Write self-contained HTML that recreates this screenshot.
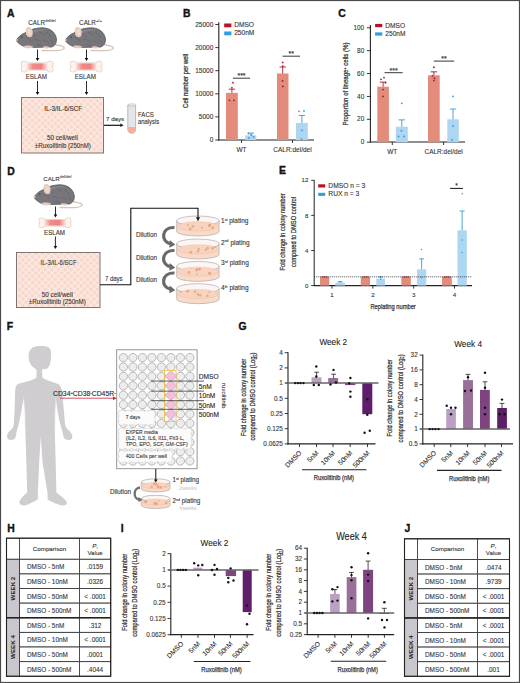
<!DOCTYPE html>
<html><head><meta charset="utf-8"><style>
html,body{margin:0;padding:0;background:#fff;width:520px;height:683px;overflow:hidden;}
svg{display:block;font-family:"Liberation Sans", sans-serif;}
</style></head><body>
<svg width="520" height="683" viewBox="0 0 520 683" font-family="'Liberation Sans', sans-serif"><defs>
<linearGradient id="bonegrad" x1="0" x2="1" y1="0" y2="0">
<stop offset="0" stop-color="#fbe4e0"/><stop offset="0.3" stop-color="#ef8a88"/><stop offset="0.7" stop-color="#ef8282"/><stop offset="1" stop-color="#fbe4e0"/></linearGradient>
<pattern id="diam" width="6.5" height="6.5" patternUnits="userSpaceOnUse">
<rect width="6.5" height="6.5" fill="#f8d7ca"/>
<path d="M0,0 L6.5,6.5 M6.5,0 L0,6.5" stroke="#fcebe4" stroke-width="1.3"/>
</pattern>
<linearGradient id="tubeg" x1="0" x2="0" y1="0" y2="1"><stop offset="0" stop-color="#f5b090"/><stop offset="1" stop-color="#e86040"/></linearGradient>
</defs>
<rect x="0.00" y="0.00" width="520.00" height="683.00" fill="#ffffff" stroke="none" stroke-width="1" />
<text x="7.00" y="16.70" font-size="10.4" fill="#111" font-weight="bold" style="stroke:#111;stroke-width:0.35">A</text>
<text x="28.20" y="24.60" font-size="6.3" fill="#333" stroke="#333" stroke-width="0.1">CALR</text>
<text x="45.20" y="21.80" font-size="3.5" fill="#444" stroke="#444" stroke-width="0.1">del/del</text>
<g transform="translate(16.2,27.5) scale(1.0)">
<path d="M38,17 C44,18 49,19 48,21 C47,23 38,23.5 26,23" fill="none" stroke="#d9c3b5" stroke-width="1.3" stroke-linecap="round"/>
<path d="M0.3,12.2 C2,9.5 5,7 8.5,5.5 C12,3 18,0.5 26,0.3 C33,0.3 38.5,4 40,10 C41,14 39.5,18 35.5,19.5 L14,20 C9,20 5,18 2.5,15.8 C1,14.5 0.2,13.4 0.3,12.2 Z" fill="#77767b" stroke="#56565c" stroke-width="0.8" />
<path d="M14,6 Q18.0,6.5 20,9" fill="none" stroke="#606066" stroke-width="0.6" />
<path d="M22,4 Q26.0,5.0 28,8" fill="none" stroke="#606066" stroke-width="0.6" />
<path d="M30,5 Q33.5,6.5 35,10" fill="none" stroke="#606066" stroke-width="0.6" />
<path d="M18,12 Q22.5,12.0 25,14" fill="none" stroke="#606066" stroke-width="0.6" />
<path d="M27,13 Q31.0,13.5 33,16" fill="none" stroke="#606066" stroke-width="0.6" />
<path d="M34,12 Q36.5,13.5 37,17" fill="none" stroke="#606066" stroke-width="0.6" />
<path d="M10,10 Q13.5,11.0 15,14" fill="none" stroke="#606066" stroke-width="0.6" />
<path d="M20,17 Q24.0,16.75 26,18.5" fill="none" stroke="#606066" stroke-width="0.6" />
<path d="M12,4.5 C18,1.8 26,1.2 31,2.2 C28,3 20,3.6 14,6.5 Z" fill="#85848a" stroke="none" stroke-width="1" />
<path d="M9.5,3 C9.5,0 12,-1.2 14.5,0.2 C16.8,1.6 17,5.5 16,8.5 C14.5,10.5 11.5,10 10.2,7.5 C9.6,6 9.5,4.5 9.5,3 Z" fill="#e3cbbd" stroke="none" stroke-width="1" />
<path d="M11,3.5 C11,1.5 13,1 14.5,2 C15.5,3.2 15.5,6 14.8,7.5 C13.5,8.5 12,7.8 11.5,6.5 Z" fill="#eed9cc" stroke="none" stroke-width="1" />
<circle cx="5.80" cy="9.60" r="0.7" fill="#2a2a2e" />
<circle cx="0.80" cy="12.50" r="1.0" fill="#e8b8b0" />
<path d="M8,18.5 C10,17.8 15,18 17.5,19.5 C16,21 10,21.2 8.2,20.2 Z" fill="#e2cabe" stroke="none" stroke-width="1" />
<path d="M27,19 C29.5,18.6 33,19.2 34,20.2 C32,21.2 28.5,21 27,20.2 Z" fill="#e2cabe" stroke="none" stroke-width="1" />
</g>
<line x1="37.50" y1="49.50" x2="37.50" y2="58.50" stroke="#111" stroke-width="0.9" />
<path d="M35.7,58 L39.3,58 L37.5,61 Z" fill="#111" stroke="none" stroke-width="1" />
<circle cx="24.11" cy="64.11" r="2.81" fill="#fcf3ef" stroke="#dcc4b6" stroke-width="1.1"/>
<circle cx="24.11" cy="68.89" r="2.81" fill="#fcf3ef" stroke="#dcc4b6" stroke-width="1.1"/>
<circle cx="50.09" cy="64.11" r="2.81" fill="#fcf3ef" stroke="#dcc4b6" stroke-width="1.1"/>
<circle cx="50.09" cy="68.89" r="2.81" fill="#fcf3ef" stroke="#dcc4b6" stroke-width="1.1"/>
<rect x="23.91" y="63.07" width="26.38" height="6.86" fill="#fcf3ef" stroke="#dcc4b6" stroke-width="1.1"/>
<circle cx="24.11" cy="64.11" r="2.81" fill="#fcf3ef" />
<circle cx="24.11" cy="68.89" r="2.81" fill="#fcf3ef" />
<circle cx="50.09" cy="64.11" r="2.81" fill="#fcf3ef" />
<circle cx="50.09" cy="68.89" r="2.81" fill="#fcf3ef" />
<rect x="23.91" y="63.07" width="26.38" height="6.86" fill="#fcf3ef" />
<rect x="26.82" y="63.38" width="20.56" height="6.24" fill="url(#bonegrad)"/>
<text x="36.30" y="78.80" font-size="6.6" fill="#333" stroke="#333" stroke-width="0.1" text-anchor="middle" textLength="21.2" lengthAdjust="spacingAndGlyphs">ESLAM</text>
<line x1="37.50" y1="81.00" x2="37.50" y2="92.50" stroke="#111" stroke-width="0.9" />
<path d="M35.7,92 L39.3,92 L37.5,95 Z" fill="#111" stroke="none" stroke-width="1" />
<text x="79.10" y="24.60" font-size="6.3" fill="#333" stroke="#333" stroke-width="0.1">CALR</text>
<text x="95.90" y="21.80" font-size="4.2" fill="#444" stroke="#444" stroke-width="0.1">+/+</text>
<g transform="translate(65.2,27.5) scale(1.0)">
<path d="M38,17 C44,18 49,19 48,21 C47,23 38,23.5 26,23" fill="none" stroke="#d9c3b5" stroke-width="1.3" stroke-linecap="round"/>
<path d="M0.3,12.2 C2,9.5 5,7 8.5,5.5 C12,3 18,0.5 26,0.3 C33,0.3 38.5,4 40,10 C41,14 39.5,18 35.5,19.5 L14,20 C9,20 5,18 2.5,15.8 C1,14.5 0.2,13.4 0.3,12.2 Z" fill="#77767b" stroke="#56565c" stroke-width="0.8" />
<path d="M14,6 Q18.0,6.5 20,9" fill="none" stroke="#606066" stroke-width="0.6" />
<path d="M22,4 Q26.0,5.0 28,8" fill="none" stroke="#606066" stroke-width="0.6" />
<path d="M30,5 Q33.5,6.5 35,10" fill="none" stroke="#606066" stroke-width="0.6" />
<path d="M18,12 Q22.5,12.0 25,14" fill="none" stroke="#606066" stroke-width="0.6" />
<path d="M27,13 Q31.0,13.5 33,16" fill="none" stroke="#606066" stroke-width="0.6" />
<path d="M34,12 Q36.5,13.5 37,17" fill="none" stroke="#606066" stroke-width="0.6" />
<path d="M10,10 Q13.5,11.0 15,14" fill="none" stroke="#606066" stroke-width="0.6" />
<path d="M20,17 Q24.0,16.75 26,18.5" fill="none" stroke="#606066" stroke-width="0.6" />
<path d="M12,4.5 C18,1.8 26,1.2 31,2.2 C28,3 20,3.6 14,6.5 Z" fill="#85848a" stroke="none" stroke-width="1" />
<path d="M9.5,3 C9.5,0 12,-1.2 14.5,0.2 C16.8,1.6 17,5.5 16,8.5 C14.5,10.5 11.5,10 10.2,7.5 C9.6,6 9.5,4.5 9.5,3 Z" fill="#e3cbbd" stroke="none" stroke-width="1" />
<path d="M11,3.5 C11,1.5 13,1 14.5,2 C15.5,3.2 15.5,6 14.8,7.5 C13.5,8.5 12,7.8 11.5,6.5 Z" fill="#eed9cc" stroke="none" stroke-width="1" />
<circle cx="5.80" cy="9.60" r="0.7" fill="#2a2a2e" />
<circle cx="0.80" cy="12.50" r="1.0" fill="#e8b8b0" />
<path d="M8,18.5 C10,17.8 15,18 17.5,19.5 C16,21 10,21.2 8.2,20.2 Z" fill="#e2cabe" stroke="none" stroke-width="1" />
<path d="M27,19 C29.5,18.6 33,19.2 34,20.2 C32,21.2 28.5,21 27,20.2 Z" fill="#e2cabe" stroke="none" stroke-width="1" />
</g>
<line x1="86.50" y1="49.50" x2="86.50" y2="58.50" stroke="#111" stroke-width="0.9" />
<path d="M84.7,58 L88.3,58 L86.5,61 Z" fill="#111" stroke="none" stroke-width="1" />
<circle cx="73.11" cy="64.11" r="2.81" fill="#fcf3ef" stroke="#dcc4b6" stroke-width="1.1"/>
<circle cx="73.11" cy="68.89" r="2.81" fill="#fcf3ef" stroke="#dcc4b6" stroke-width="1.1"/>
<circle cx="99.09" cy="64.11" r="2.81" fill="#fcf3ef" stroke="#dcc4b6" stroke-width="1.1"/>
<circle cx="99.09" cy="68.89" r="2.81" fill="#fcf3ef" stroke="#dcc4b6" stroke-width="1.1"/>
<rect x="72.91" y="63.07" width="26.38" height="6.86" fill="#fcf3ef" stroke="#dcc4b6" stroke-width="1.1"/>
<circle cx="73.11" cy="64.11" r="2.81" fill="#fcf3ef" />
<circle cx="73.11" cy="68.89" r="2.81" fill="#fcf3ef" />
<circle cx="99.09" cy="64.11" r="2.81" fill="#fcf3ef" />
<circle cx="99.09" cy="68.89" r="2.81" fill="#fcf3ef" />
<rect x="72.91" y="63.07" width="26.38" height="6.86" fill="#fcf3ef" />
<rect x="75.82" y="63.38" width="20.56" height="6.24" fill="url(#bonegrad)"/>
<text x="85.30" y="78.80" font-size="6.6" fill="#333" stroke="#333" stroke-width="0.1" text-anchor="middle" textLength="21.2" lengthAdjust="spacingAndGlyphs">ESLAM</text>
<line x1="86.50" y1="81.00" x2="86.50" y2="92.50" stroke="#111" stroke-width="0.9" />
<path d="M84.7,92 L88.3,92 L86.5,95 Z" fill="#111" stroke="none" stroke-width="1" />
<rect x="21.50" y="97.50" width="82.00" height="55.50" fill="url(#diam)" stroke="#807570" stroke-width="1" />
<text x="63.20" y="110.60" font-size="7" fill="#333" stroke="#333" stroke-width="0.1" text-anchor="middle" textLength="38" lengthAdjust="spacingAndGlyphs">IL-3/IL-6/SCF</text>
<text x="62.40" y="140.30" font-size="7" fill="#333" stroke="#333" stroke-width="0.1" text-anchor="middle" textLength="31" lengthAdjust="spacingAndGlyphs">50 cell/well</text>
<text x="62.80" y="147.80" font-size="7" fill="#333" stroke="#333" stroke-width="0.1" text-anchor="middle" textLength="56" lengthAdjust="spacingAndGlyphs">±Ruxolitinib (250nM)</text>
<line x1="104.00" y1="125.30" x2="120.80" y2="125.30" stroke="#111" stroke-width="1.2" />
<path d="M120.3,123.6 L120.3,127.0 L123.6,125.3 Z" fill="#111" stroke="none" stroke-width="1" />
<text x="106.00" y="120.90" font-size="6.2" fill="#333" stroke="#333" stroke-width="0.1" textLength="18.2" lengthAdjust="spacingAndGlyphs">7 days</text>
<path d="M127.8,105 L127.8,129.5 C127.8,134.6 135.6,134.6 135.6,129.5 L135.6,105" fill="#e6e6ea" stroke="#a0a0a4" stroke-width="0.7" />
<ellipse cx="131.7" cy="105" rx="3.9" ry="1.1" fill="#f6f6f6" stroke="#a0a0a4" stroke-width="0.6"/>
<path d="M128.1,127 L135.3,127 L135.3,129.5 C135.3,134.2 128.1,134.2 128.1,129.5 Z" fill="#f7ae92" stroke="none" stroke-width="1" />
<text x="138.00" y="116.80" font-size="6.8" fill="#333" stroke="#333" stroke-width="0.1" textLength="15.8" lengthAdjust="spacingAndGlyphs">FACS</text>
<text x="138.00" y="124.00" font-size="6.8" fill="#333" stroke="#333" stroke-width="0.1" textLength="21.2" lengthAdjust="spacingAndGlyphs">analysis</text>
<text x="182.90" y="16.80" font-size="10.4" fill="#111" font-weight="bold" style="stroke:#111;stroke-width:0.35">B</text>
<line x1="218.80" y1="22.30" x2="218.80" y2="140.50" stroke="#222" stroke-width="1.1" />
<line x1="215.30" y1="140.00" x2="218.80" y2="140.00" stroke="#222" stroke-width="0.9" />
<text x="213.30" y="142.20" font-size="6.5" fill="#333" stroke="#333" stroke-width="0.1" text-anchor="end">0</text>
<line x1="215.30" y1="116.90" x2="218.80" y2="116.90" stroke="#222" stroke-width="0.9" />
<text x="213.30" y="119.10" font-size="6.5" fill="#333" stroke="#333" stroke-width="0.1" text-anchor="end">5000</text>
<line x1="215.30" y1="93.80" x2="218.80" y2="93.80" stroke="#222" stroke-width="0.9" />
<text x="213.30" y="96.00" font-size="6.5" fill="#333" stroke="#333" stroke-width="0.1" text-anchor="end">10000</text>
<line x1="215.30" y1="70.70" x2="218.80" y2="70.70" stroke="#222" stroke-width="0.9" />
<text x="213.30" y="72.90" font-size="6.5" fill="#333" stroke="#333" stroke-width="0.1" text-anchor="end">15000</text>
<line x1="215.30" y1="47.60" x2="218.80" y2="47.60" stroke="#222" stroke-width="0.9" />
<text x="213.30" y="49.80" font-size="6.5" fill="#333" stroke="#333" stroke-width="0.1" text-anchor="end">20000</text>
<line x1="215.30" y1="24.50" x2="218.80" y2="24.50" stroke="#222" stroke-width="0.9" />
<text x="213.30" y="26.70" font-size="6.5" fill="#333" stroke="#333" stroke-width="0.1" text-anchor="end">25000</text>
<line x1="218.30" y1="140.00" x2="314.00" y2="140.00" stroke="#222" stroke-width="1.1" />
<line x1="241.50" y1="140.00" x2="241.50" y2="143.00" stroke="#222" stroke-width="0.9" />
<line x1="292.50" y1="140.00" x2="292.50" y2="143.00" stroke="#222" stroke-width="0.9" />
<text x="241.50" y="152.00" font-size="6.5" fill="#333" stroke="#333" stroke-width="0.1" text-anchor="middle">WT</text>
<text x="292.50" y="152.00" font-size="6.5" fill="#333" stroke="#333" stroke-width="0.1" text-anchor="middle">CALR:del/del</text>
<text x="188.30" y="80.90" font-size="7.2" fill="#333" stroke="#333" stroke-width="0.25" text-anchor="middle" textLength="54" lengthAdjust="spacingAndGlyphs" transform="rotate(-90 188.30 80.90)">Cell number per well</text>
<rect x="224.20" y="23.50" width="7.20" height="3.80" fill="#b8122c" stroke="none" stroke-width="1" />
<text x="234.20" y="27.40" font-size="6.6" fill="#333" stroke="#333" stroke-width="0.1">DMSO</text>
<rect x="224.20" y="31.50" width="7.20" height="3.80" fill="#2e9fdb" stroke="none" stroke-width="1" />
<text x="234.20" y="35.40" font-size="6.6" fill="#333" stroke="#333" stroke-width="0.1">250nM</text>
<rect x="226.00" y="92.88" width="11.80" height="47.12" fill="#e38c7b" stroke="none" stroke-width="1" />
<line x1="231.90" y1="92.88" x2="231.90" y2="89.18" stroke="#a8162c" stroke-width="0.9" />
<line x1="228.70" y1="89.18" x2="235.10" y2="89.18" stroke="#a8162c" stroke-width="0.9" />
<circle cx="229.50" cy="100.30" r="0.9" fill="#a8162c" />
<circle cx="234.00" cy="100.30" r="0.9" fill="#a8162c" />
<circle cx="231.90" cy="87.79" r="0.9" fill="#a8162c" />
<circle cx="233.00" cy="82.71" r="0.9" fill="#a8162c" />
<rect x="245.30" y="135.38" width="11.00" height="4.62" fill="#acd6f2" stroke="none" stroke-width="1" />
<line x1="250.80" y1="135.38" x2="250.80" y2="133.07" stroke="#3a9ad8" stroke-width="0.9" />
<line x1="247.60" y1="133.07" x2="254.00" y2="133.07" stroke="#3a9ad8" stroke-width="0.9" />
<circle cx="248.50" cy="133.50" r="0.9" fill="#3a9ad8" />
<circle cx="251.50" cy="135.00" r="0.9" fill="#3a9ad8" />
<circle cx="253.50" cy="136.80" r="0.9" fill="#3a9ad8" />
<circle cx="249.00" cy="138.00" r="0.9" fill="#3a9ad8" />
<rect x="277.00" y="73.47" width="11.50" height="66.53" fill="#e38c7b" stroke="none" stroke-width="1" />
<line x1="282.70" y1="73.47" x2="282.70" y2="67.00" stroke="#a8162c" stroke-width="0.9" />
<line x1="279.50" y1="67.00" x2="285.90" y2="67.00" stroke="#a8162c" stroke-width="0.9" />
<circle cx="282.70" cy="62.38" r="0.9" fill="#a8162c" />
<circle cx="282.70" cy="66.08" r="0.9" fill="#a8162c" />
<circle cx="282.50" cy="80.86" r="0.9" fill="#a8162c" />
<circle cx="282.90" cy="86.41" r="0.9" fill="#a8162c" />
<rect x="296.00" y="122.91" width="11.80" height="17.09" fill="#acd6f2" stroke="none" stroke-width="1" />
<line x1="301.90" y1="122.91" x2="301.90" y2="115.51" stroke="#3a9ad8" stroke-width="0.9" />
<line x1="298.70" y1="115.51" x2="305.10" y2="115.51" stroke="#3a9ad8" stroke-width="0.9" />
<circle cx="299.00" cy="111.36" r="0.9" fill="#3a9ad8" />
<circle cx="304.00" cy="110.89" r="0.9" fill="#3a9ad8" />
<circle cx="302.00" cy="130.30" r="0.9" fill="#3a9ad8" />
<circle cx="301.50" cy="139.08" r="0.9" fill="#3a9ad8" />
<line x1="233.00" y1="78.20" x2="250.00" y2="78.20" stroke="#222" stroke-width="0.9" />
<text x="241.50" y="78.40" font-size="7" fill="#222" stroke="#222" stroke-width="0.1" text-anchor="middle">***</text>
<line x1="282.50" y1="56.20" x2="300.00" y2="56.20" stroke="#222" stroke-width="0.9" />
<text x="291.20" y="56.30" font-size="7" fill="#222" stroke="#222" stroke-width="0.1" text-anchor="middle">**</text>
<text x="338.30" y="16.90" font-size="10.4" fill="#111" font-weight="bold" style="stroke:#111;stroke-width:0.35">C</text>
<line x1="370.40" y1="25.10" x2="370.40" y2="142.50" stroke="#222" stroke-width="1.1" />
<line x1="366.90" y1="142.20" x2="370.40" y2="142.20" stroke="#222" stroke-width="0.9" />
<text x="364.20" y="144.30" font-size="6.4" fill="#333" stroke="#333" stroke-width="0.1" text-anchor="end">0</text>
<line x1="366.90" y1="119.32" x2="370.40" y2="119.32" stroke="#222" stroke-width="0.9" />
<text x="364.20" y="121.42" font-size="6.4" fill="#333" stroke="#333" stroke-width="0.1" text-anchor="end">20</text>
<line x1="366.90" y1="96.44" x2="370.40" y2="96.44" stroke="#222" stroke-width="0.9" />
<text x="364.20" y="98.54" font-size="6.4" fill="#333" stroke="#333" stroke-width="0.1" text-anchor="end">40</text>
<line x1="366.90" y1="73.56" x2="370.40" y2="73.56" stroke="#222" stroke-width="0.9" />
<text x="364.20" y="75.66" font-size="6.4" fill="#333" stroke="#333" stroke-width="0.1" text-anchor="end">60</text>
<line x1="366.90" y1="50.68" x2="370.40" y2="50.68" stroke="#222" stroke-width="0.9" />
<text x="364.20" y="52.78" font-size="6.4" fill="#333" stroke="#333" stroke-width="0.1" text-anchor="end">80</text>
<line x1="366.90" y1="27.80" x2="370.40" y2="27.80" stroke="#222" stroke-width="0.9" />
<text x="364.20" y="29.90" font-size="6.4" fill="#333" stroke="#333" stroke-width="0.1" text-anchor="end">100</text>
<line x1="369.90" y1="142.00" x2="465.00" y2="142.00" stroke="#222" stroke-width="1.1" />
<line x1="392.30" y1="142.00" x2="392.30" y2="145.00" stroke="#222" stroke-width="0.9" />
<line x1="443.60" y1="142.00" x2="443.60" y2="145.00" stroke="#222" stroke-width="0.9" />
<text x="392.30" y="154.00" font-size="6.5" fill="#333" stroke="#333" stroke-width="0.1" text-anchor="middle">WT</text>
<text x="443.60" y="154.00" font-size="6.5" fill="#333" stroke="#333" stroke-width="0.1" text-anchor="middle">CALR:del/del</text>
<text x="348.00" y="84.00" font-size="7.2" fill="#333" stroke="#333" stroke-width="0.25" text-anchor="middle" textLength="83" lengthAdjust="spacingAndGlyphs" transform="rotate(-90 348.00 84.00)">Proportion of lineage<tspan font-size="4.2" dy="-2.4">+</tspan><tspan dy="2.4"> cells (%)</tspan></text>
<rect x="375.10" y="23.90" width="7.20" height="3.30" fill="#b8122c" stroke="none" stroke-width="1" />
<text x="385.30" y="27.80" font-size="6.6" fill="#333" stroke="#333" stroke-width="0.1">DMSO</text>
<rect x="375.10" y="32.40" width="7.20" height="3.20" fill="#2e9fdb" stroke="none" stroke-width="1" />
<text x="385.30" y="36.20" font-size="6.6" fill="#333" stroke="#333" stroke-width="0.1">250nM</text>
<rect x="377.30" y="86.72" width="11.60" height="55.48" fill="#e38c7b" stroke="none" stroke-width="1" />
<line x1="383.10" y1="86.72" x2="383.10" y2="82.14" stroke="#a8162c" stroke-width="0.9" />
<line x1="379.90" y1="82.14" x2="386.30" y2="82.14" stroke="#a8162c" stroke-width="0.9" />
<circle cx="381.00" cy="79.28" r="0.9" fill="#a8162c" />
<circle cx="384.00" cy="77.56" r="0.9" fill="#a8162c" />
<circle cx="385.50" cy="82.71" r="0.9" fill="#a8162c" />
<circle cx="383.00" cy="89.58" r="0.9" fill="#a8162c" />
<circle cx="383.00" cy="96.44" r="0.9" fill="#a8162c" />
<rect x="395.80" y="126.76" width="12.00" height="15.44" fill="#acd6f2" stroke="none" stroke-width="1" />
<line x1="401.80" y1="126.76" x2="401.80" y2="119.89" stroke="#3a9ad8" stroke-width="0.9" />
<line x1="398.60" y1="119.89" x2="405.00" y2="119.89" stroke="#3a9ad8" stroke-width="0.9" />
<circle cx="401.80" cy="103.30" r="0.9" fill="#3a9ad8" />
<circle cx="401.50" cy="130.76" r="0.9" fill="#3a9ad8" />
<circle cx="398.50" cy="136.48" r="0.9" fill="#3a9ad8" />
<circle cx="404.00" cy="136.48" r="0.9" fill="#3a9ad8" />
<rect x="428.00" y="75.28" width="11.70" height="66.92" fill="#e38c7b" stroke="none" stroke-width="1" />
<line x1="433.90" y1="75.28" x2="433.90" y2="71.84" stroke="#a8162c" stroke-width="0.9" />
<line x1="430.70" y1="71.84" x2="437.10" y2="71.84" stroke="#a8162c" stroke-width="0.9" />
<circle cx="433.90" cy="67.27" r="0.9" fill="#a8162c" />
<circle cx="432.50" cy="75.85" r="0.9" fill="#a8162c" />
<circle cx="434.50" cy="78.14" r="0.9" fill="#a8162c" />
<circle cx="433.90" cy="80.42" r="0.9" fill="#a8162c" />
<rect x="447.30" y="119.32" width="11.50" height="22.88" fill="#acd6f2" stroke="none" stroke-width="1" />
<line x1="453.00" y1="119.32" x2="453.00" y2="109.02" stroke="#3a9ad8" stroke-width="0.9" />
<line x1="449.80" y1="109.02" x2="456.20" y2="109.02" stroke="#3a9ad8" stroke-width="0.9" />
<circle cx="453.00" cy="96.44" r="0.9" fill="#3a9ad8" />
<circle cx="453.00" cy="126.18" r="0.9" fill="#3a9ad8" />
<circle cx="452.00" cy="139.91" r="0.9" fill="#3a9ad8" />
<line x1="384.50" y1="72.70" x2="402.70" y2="72.70" stroke="#222" stroke-width="0.9" />
<text x="393.60" y="73.30" font-size="7" fill="#222" stroke="#222" stroke-width="0.1" text-anchor="middle">***</text>
<line x1="433.80" y1="61.10" x2="454.20" y2="61.10" stroke="#222" stroke-width="0.9" />
<text x="444.00" y="61.20" font-size="7" fill="#222" stroke="#222" stroke-width="0.1" text-anchor="middle">**</text>
<text x="7.30" y="174.60" font-size="10.4" fill="#111" font-weight="bold" style="stroke:#111;stroke-width:0.35">D</text>
<text x="43.30" y="180.80" font-size="6.1" fill="#333" stroke="#333" stroke-width="0.1">CALR</text>
<text x="59.80" y="177.60" font-size="3.9" fill="#444" stroke="#444" stroke-width="0.1">del/del</text>
<g transform="translate(34,184.5) scale(1.0)">
<path d="M38,17 C44,18 49,19 48,21 C47,23 38,23.5 26,23" fill="none" stroke="#d9c3b5" stroke-width="1.3" stroke-linecap="round"/>
<path d="M0.3,12.2 C2,9.5 5,7 8.5,5.5 C12,3 18,0.5 26,0.3 C33,0.3 38.5,4 40,10 C41,14 39.5,18 35.5,19.5 L14,20 C9,20 5,18 2.5,15.8 C1,14.5 0.2,13.4 0.3,12.2 Z" fill="#77767b" stroke="#56565c" stroke-width="0.8" />
<path d="M14,6 Q18.0,6.5 20,9" fill="none" stroke="#606066" stroke-width="0.6" />
<path d="M22,4 Q26.0,5.0 28,8" fill="none" stroke="#606066" stroke-width="0.6" />
<path d="M30,5 Q33.5,6.5 35,10" fill="none" stroke="#606066" stroke-width="0.6" />
<path d="M18,12 Q22.5,12.0 25,14" fill="none" stroke="#606066" stroke-width="0.6" />
<path d="M27,13 Q31.0,13.5 33,16" fill="none" stroke="#606066" stroke-width="0.6" />
<path d="M34,12 Q36.5,13.5 37,17" fill="none" stroke="#606066" stroke-width="0.6" />
<path d="M10,10 Q13.5,11.0 15,14" fill="none" stroke="#606066" stroke-width="0.6" />
<path d="M20,17 Q24.0,16.75 26,18.5" fill="none" stroke="#606066" stroke-width="0.6" />
<path d="M12,4.5 C18,1.8 26,1.2 31,2.2 C28,3 20,3.6 14,6.5 Z" fill="#85848a" stroke="none" stroke-width="1" />
<path d="M9.5,3 C9.5,0 12,-1.2 14.5,0.2 C16.8,1.6 17,5.5 16,8.5 C14.5,10.5 11.5,10 10.2,7.5 C9.6,6 9.5,4.5 9.5,3 Z" fill="#e3cbbd" stroke="none" stroke-width="1" />
<path d="M11,3.5 C11,1.5 13,1 14.5,2 C15.5,3.2 15.5,6 14.8,7.5 C13.5,8.5 12,7.8 11.5,6.5 Z" fill="#eed9cc" stroke="none" stroke-width="1" />
<circle cx="5.80" cy="9.60" r="0.7" fill="#2a2a2e" />
<circle cx="0.80" cy="12.50" r="1.0" fill="#e8b8b0" />
<path d="M8,18.5 C10,17.8 15,18 17.5,19.5 C16,21 10,21.2 8.2,20.2 Z" fill="#e2cabe" stroke="none" stroke-width="1" />
<path d="M27,19 C29.5,18.6 33,19.2 34,20.2 C32,21.2 28.5,21 27,20.2 Z" fill="#e2cabe" stroke="none" stroke-width="1" />
</g>
<line x1="55.50" y1="206.50" x2="55.50" y2="215.00" stroke="#111" stroke-width="0.9" />
<path d="M53.7,214.5 L57.3,214.5 L55.5,217.5 Z" fill="#111" stroke="none" stroke-width="1" />
<circle cx="41.77" cy="220.56" r="2.57" fill="#fcf3ef" stroke="#dcc4b6" stroke-width="1.1"/>
<circle cx="41.77" cy="224.94" r="2.57" fill="#fcf3ef" stroke="#dcc4b6" stroke-width="1.1"/>
<circle cx="68.23" cy="220.56" r="2.57" fill="#fcf3ef" stroke="#dcc4b6" stroke-width="1.1"/>
<circle cx="68.23" cy="224.94" r="2.57" fill="#fcf3ef" stroke="#dcc4b6" stroke-width="1.1"/>
<rect x="41.56" y="219.62" width="26.87" height="6.27" fill="#fcf3ef" stroke="#dcc4b6" stroke-width="1.1"/>
<circle cx="41.77" cy="220.56" r="2.57" fill="#fcf3ef" />
<circle cx="41.77" cy="224.94" r="2.57" fill="#fcf3ef" />
<circle cx="68.23" cy="220.56" r="2.57" fill="#fcf3ef" />
<circle cx="68.23" cy="224.94" r="2.57" fill="#fcf3ef" />
<rect x="41.56" y="219.62" width="26.87" height="6.27" fill="#fcf3ef" />
<rect x="44.23" y="219.90" width="21.55" height="5.70" fill="url(#bonegrad)"/>
<text x="54.50" y="234.70" font-size="6.6" fill="#333" stroke="#333" stroke-width="0.1" text-anchor="middle" textLength="21" lengthAdjust="spacingAndGlyphs">ESLAM</text>
<line x1="55.40" y1="236.50" x2="55.40" y2="246.50" stroke="#111" stroke-width="0.9" />
<path d="M53.6,246 L57.199999999999996,246 L55.4,249 Z" fill="#111" stroke="none" stroke-width="1" />
<rect x="16.50" y="252.50" width="83.50" height="55.00" fill="url(#diam)" stroke="#807570" stroke-width="1" />
<text x="58.60" y="264.70" font-size="7" fill="#333" stroke="#333" stroke-width="0.1" text-anchor="middle" textLength="36" lengthAdjust="spacingAndGlyphs">IL-3/IL-6/SCF</text>
<text x="57.30" y="297.00" font-size="7" fill="#333" stroke="#333" stroke-width="0.1" text-anchor="middle" textLength="31.1" lengthAdjust="spacingAndGlyphs">50 cell/well</text>
<text x="57.30" y="304.00" font-size="7" fill="#333" stroke="#333" stroke-width="0.1" text-anchor="middle" textLength="57.1" lengthAdjust="spacingAndGlyphs">±Ruxolitinib (250nM)</text>
<text x="104.90" y="281.00" font-size="6.5" fill="#333" stroke="#333" stroke-width="0.1" textLength="17.7" lengthAdjust="spacingAndGlyphs">7 days</text>
<path d="M176.70,220.80 L176.70,231.20 A21.20,4.80 0 0 0 219.10,231.20 L219.10,220.80 Z" fill="#f9d9c8" stroke="#a49c9a" stroke-width="0.6" />
<ellipse cx="197.90" cy="220.80" rx="21.20" ry="4.80" fill="#fbf5f3" stroke="#a49c9a" stroke-width="0.6"/>
<ellipse cx="197.90" cy="226.32" rx="20.20" ry="4.56" fill="#f8d4c0" stroke="#e6b8a2" stroke-width="0.4"/>
<circle cx="209.42" cy="225.72" r="1.467064082375769" fill="#e6a078" opacity="0.8"/>
<circle cx="190.29" cy="228.99" r="1.4063227462513046" fill="#e6a078" opacity="0.8"/>
<circle cx="187.98" cy="224.93" r="0.9563917556829811" fill="#e6a078" opacity="0.8"/>
<circle cx="193.03" cy="226.37" r="1.3145878909054658" fill="#e6a078" opacity="0.8"/>
<circle cx="209.75" cy="224.74" r="1.2531420066831642" fill="#e6a078" opacity="0.8"/>
<circle cx="201.92" cy="227.87" r="1.1302279921295708" fill="#e6a078" opacity="0.8"/>
<circle cx="212.74" cy="227.66" r="1.3804697553250214" fill="#e6a078" opacity="0.8"/>
<text x="221.00" y="223.20" font-size="6.5" fill="#333" stroke="#333" stroke-width="0.1">1<tspan font-size="3.6" dy="-2.6">st</tspan><tspan dy="2.6"> plating</tspan></text>
<path d="M176.70,243.80 L176.70,254.20 A21.20,4.80 0 0 0 219.10,254.20 L219.10,243.80 Z" fill="#f9d9c8" stroke="#a49c9a" stroke-width="0.6" />
<ellipse cx="197.90" cy="243.80" rx="21.20" ry="4.80" fill="#fbf5f3" stroke="#a49c9a" stroke-width="0.6"/>
<ellipse cx="197.90" cy="249.32" rx="20.20" ry="4.56" fill="#f8d4c0" stroke="#e6b8a2" stroke-width="0.4"/>
<circle cx="205.84" cy="249.88" r="1.2118761368371638" fill="#e6a078" opacity="0.8"/>
<circle cx="198.01" cy="251.26" r="1.2083161089542416" fill="#e6a078" opacity="0.8"/>
<circle cx="198.71" cy="248.86" r="1.1947013412726486" fill="#e6a078" opacity="0.8"/>
<circle cx="190.72" cy="252.16" r="1.4282887923771468" fill="#e6a078" opacity="0.8"/>
<circle cx="207.65" cy="248.18" r="1.3079546646394284" fill="#e6a078" opacity="0.8"/>
<circle cx="215.17" cy="247.18" r="0.8373632033376129" fill="#e6a078" opacity="0.8"/>
<circle cx="212.67" cy="248.48" r="1.383118594350938" fill="#e6a078" opacity="0.8"/>
<text x="221.00" y="244.70" font-size="6.5" fill="#333" stroke="#333" stroke-width="0.1">2<tspan font-size="3.6" dy="-2.6">nd</tspan><tspan dy="2.6"> plating</tspan></text>
<path d="M176.70,266.20 L176.70,276.60 A21.20,4.80 0 0 0 219.10,276.60 L219.10,266.20 Z" fill="#f9d9c8" stroke="#a49c9a" stroke-width="0.6" />
<ellipse cx="197.90" cy="266.20" rx="21.20" ry="4.80" fill="#fbf5f3" stroke="#a49c9a" stroke-width="0.6"/>
<ellipse cx="197.90" cy="271.72" rx="20.20" ry="4.56" fill="#f8d4c0" stroke="#e6b8a2" stroke-width="0.4"/>
<circle cx="209.81" cy="273.78" r="1.180877231014505" fill="#e6a078" opacity="0.8"/>
<circle cx="188.96" cy="272.50" r="1.4815422982754947" fill="#e6a078" opacity="0.8"/>
<circle cx="196.97" cy="269.21" r="0.988961180353606" fill="#e6a078" opacity="0.8"/>
<circle cx="197.02" cy="274.10" r="0.9129082040136843" fill="#e6a078" opacity="0.8"/>
<circle cx="209.57" cy="273.12" r="1.2716495931254526" fill="#e6a078" opacity="0.8"/>
<circle cx="199.59" cy="269.13" r="1.3785990430136548" fill="#e6a078" opacity="0.8"/>
<circle cx="196.74" cy="269.99" r="1.4404853630414312" fill="#e6a078" opacity="0.8"/>
<text x="221.00" y="265.20" font-size="6.5" fill="#333" stroke="#333" stroke-width="0.1">3<tspan font-size="3.6" dy="-2.6">rd</tspan><tspan dy="2.6"> plating</tspan></text>
<path d="M176.70,288.50 L176.70,298.90 A21.20,4.80 0 0 0 219.10,298.90 L219.10,288.50 Z" fill="#f9d9c8" stroke="#a49c9a" stroke-width="0.6" />
<ellipse cx="197.90" cy="288.50" rx="21.20" ry="4.80" fill="#fbf5f3" stroke="#a49c9a" stroke-width="0.6"/>
<ellipse cx="197.90" cy="294.02" rx="20.20" ry="4.56" fill="#f8d4c0" stroke="#e6b8a2" stroke-width="0.4"/>
<circle cx="200.15" cy="295.36" r="1.4153632279656736" fill="#e6a078" opacity="0.8"/>
<circle cx="209.44" cy="292.27" r="0.8730887932891673" fill="#e6a078" opacity="0.8"/>
<circle cx="207.37" cy="295.83" r="1.2646506419530659" fill="#e6a078" opacity="0.8"/>
<circle cx="187.65" cy="291.23" r="1.4656686930891654" fill="#e6a078" opacity="0.8"/>
<circle cx="181.19" cy="291.78" r="1.0076779763772432" fill="#e6a078" opacity="0.8"/>
<circle cx="195.02" cy="291.72" r="1.2841156060574015" fill="#e6a078" opacity="0.8"/>
<circle cx="197.95" cy="294.28" r="1.1811210385419453" fill="#e6a078" opacity="0.8"/>
<text x="221.00" y="290.20" font-size="6.5" fill="#333" stroke="#333" stroke-width="0.1">4<tspan font-size="3.6" dy="-2.6">th</tspan><tspan dy="2.6"> plating</tspan></text>
<path d="M100,284.8 L130.8,284.8 L130.8,208.3 L198,208.3 L198,217.5" fill="none" stroke="#111" stroke-width="1.1" />
<path d="M196,217.3 L200,217.3 L198,221.2 Z" fill="#111" stroke="none" stroke-width="1" />
<text x="136.00" y="236.60" font-size="6.3" fill="#333" stroke="#333" stroke-width="0.1">Dilution</text>
<text x="136.00" y="259.50" font-size="6.3" fill="#333" stroke="#333" stroke-width="0.1">Dilution</text>
<text x="136.00" y="282.20" font-size="6.3" fill="#333" stroke="#333" stroke-width="0.1">Dilution</text>
<path d="M174.5,227.5 C161,227.0 160.5,242.0 170.5,243.7" fill="none" stroke="#6a6a6a" stroke-width="3.2" stroke-linecap="butt"/>
<path d="M169.8,239.9 L175.3,244.7 L169.3,247.7 Z" fill="#6a6a6a" stroke="none" stroke-width="1" />
<path d="M174.5,250.5 C161,250.0 160.5,265.0 170.5,266.7" fill="none" stroke="#6a6a6a" stroke-width="3.2" stroke-linecap="butt"/>
<path d="M169.8,262.9 L175.3,267.7 L169.3,270.7 Z" fill="#6a6a6a" stroke="none" stroke-width="1" />
<path d="M174.5,273 C161,272.5 160.5,287.5 170.5,289.2" fill="none" stroke="#6a6a6a" stroke-width="3.2" stroke-linecap="butt"/>
<path d="M169.8,285.4 L175.3,290.2 L169.3,293.2 Z" fill="#6a6a6a" stroke="none" stroke-width="1" />
<text x="279.10" y="174.40" font-size="10.4" fill="#111" font-weight="bold" style="stroke:#111;stroke-width:0.35">E</text>
<line x1="314.20" y1="180.00" x2="314.20" y2="286.00" stroke="#222" stroke-width="1" />
<line x1="311.20" y1="285.60" x2="314.20" y2="285.60" stroke="#222" stroke-width="0.9" />
<text x="308.30" y="287.70" font-size="6.0" fill="#333" stroke="#333" stroke-width="0.1" text-anchor="end">0</text>
<line x1="311.20" y1="250.50" x2="314.20" y2="250.50" stroke="#222" stroke-width="0.9" />
<text x="308.30" y="252.60" font-size="6.0" fill="#333" stroke="#333" stroke-width="0.1" text-anchor="end">4</text>
<line x1="311.20" y1="215.40" x2="314.20" y2="215.40" stroke="#222" stroke-width="0.9" />
<text x="308.30" y="217.50" font-size="6.0" fill="#333" stroke="#333" stroke-width="0.1" text-anchor="end">8</text>
<line x1="311.20" y1="180.30" x2="314.20" y2="180.30" stroke="#222" stroke-width="0.9" />
<text x="308.30" y="182.40" font-size="6.0" fill="#333" stroke="#333" stroke-width="0.1" text-anchor="end">12</text>
<line x1="313.70" y1="285.60" x2="472.00" y2="285.60" stroke="#222" stroke-width="1.2" />
<line x1="332.00" y1="285.60" x2="332.00" y2="288.60" stroke="#222" stroke-width="0.9" />
<text x="332.00" y="297.30" font-size="6.2" fill="#333" stroke="#333" stroke-width="0.1" text-anchor="middle">1</text>
<line x1="372.90" y1="285.60" x2="372.90" y2="288.60" stroke="#222" stroke-width="0.9" />
<text x="372.90" y="297.30" font-size="6.2" fill="#333" stroke="#333" stroke-width="0.1" text-anchor="middle">2</text>
<line x1="413.70" y1="285.60" x2="413.70" y2="288.60" stroke="#222" stroke-width="0.9" />
<text x="413.70" y="297.30" font-size="6.2" fill="#333" stroke="#333" stroke-width="0.1" text-anchor="middle">3</text>
<line x1="454.50" y1="285.60" x2="454.50" y2="288.60" stroke="#222" stroke-width="0.9" />
<text x="454.50" y="297.30" font-size="6.2" fill="#333" stroke="#333" stroke-width="0.1" text-anchor="middle">4</text>
<text x="393.10" y="308.60" font-size="7.4" fill="#333" stroke="#333" stroke-width="0.25" text-anchor="middle" textLength="45.4" lengthAdjust="spacingAndGlyphs">Replating number</text>
<text x="285.20" y="231.90" font-size="7.2" fill="#333" stroke="#333" stroke-width="0.25" text-anchor="middle" textLength="77" lengthAdjust="spacingAndGlyphs" transform="rotate(-90 285.20 231.90)">Fold change in colony number</text>
<text x="295.60" y="231.90" font-size="7.2" fill="#333" stroke="#333" stroke-width="0.25" text-anchor="middle" textLength="70" lengthAdjust="spacingAndGlyphs" transform="rotate(-90 295.60 231.90)">compared to DMSO control</text>
<rect x="318.20" y="184.30" width="7.00" height="3.20" fill="#b8122c" stroke="none" stroke-width="1" />
<text x="328.30" y="187.80" font-size="6.7" fill="#333" stroke="#333" stroke-width="0.1">DMSO n = 3</text>
<rect x="318.20" y="192.80" width="7.00" height="3.10" fill="#2e9fdb" stroke="none" stroke-width="1" />
<text x="328.30" y="196.20" font-size="6.7" fill="#333" stroke="#333" stroke-width="0.1">RUX n = 3</text>
<rect x="320.00" y="276.83" width="9.30" height="8.77" fill="#e38c7b" stroke="none" stroke-width="1" />
<line x1="321.50" y1="276.83" x2="327.80" y2="276.83" stroke="#b8122c" stroke-width="0.8" />
<rect x="360.80" y="276.83" width="9.20" height="8.77" fill="#e38c7b" stroke="none" stroke-width="1" />
<line x1="362.30" y1="276.83" x2="368.50" y2="276.83" stroke="#b8122c" stroke-width="0.8" />
<rect x="401.30" y="276.83" width="9.50" height="8.77" fill="#e38c7b" stroke="none" stroke-width="1" />
<line x1="402.80" y1="276.83" x2="409.30" y2="276.83" stroke="#b8122c" stroke-width="0.8" />
<rect x="442.00" y="276.83" width="9.80" height="8.77" fill="#e38c7b" stroke="none" stroke-width="1" />
<line x1="443.50" y1="276.83" x2="450.30" y2="276.83" stroke="#b8122c" stroke-width="0.8" />
<rect x="335.50" y="282.53" width="9.50" height="3.07" fill="#acd6f2" stroke="none" stroke-width="1" />
<line x1="340.25" y1="282.53" x2="340.25" y2="281.65" stroke="#3a9ad8" stroke-width="0.9" />
<line x1="337.75" y1="281.65" x2="342.75" y2="281.65" stroke="#3a9ad8" stroke-width="0.9" />
<rect x="376.30" y="278.58" width="8.70" height="7.02" fill="#acd6f2" stroke="none" stroke-width="1" />
<line x1="380.65" y1="278.58" x2="380.65" y2="276.83" stroke="#3a9ad8" stroke-width="0.9" />
<line x1="378.15" y1="276.83" x2="383.15" y2="276.83" stroke="#3a9ad8" stroke-width="0.9" />
<rect x="417.00" y="269.37" width="9.30" height="16.23" fill="#acd6f2" stroke="none" stroke-width="1" />
<line x1="421.65" y1="269.37" x2="421.65" y2="258.84" stroke="#3a9ad8" stroke-width="0.9" />
<line x1="419.15" y1="258.84" x2="424.15" y2="258.84" stroke="#3a9ad8" stroke-width="0.9" />
<rect x="457.50" y="230.32" width="9.30" height="55.28" fill="#acd6f2" stroke="none" stroke-width="1" />
<line x1="462.15" y1="230.32" x2="462.15" y2="211.01" stroke="#3a9ad8" stroke-width="0.9" />
<line x1="459.65" y1="211.01" x2="464.65" y2="211.01" stroke="#3a9ad8" stroke-width="0.9" />
<circle cx="421.50" cy="249.50" r="0.75" fill="#3a9ad8" />
<circle cx="421.50" cy="277.50" r="0.75" fill="#3a9ad8" />
<circle cx="462.20" cy="193.75" r="0.75" fill="#3a9ad8" />
<circle cx="462.20" cy="240.00" r="0.75" fill="#3a9ad8" />
<circle cx="462.20" cy="252.50" r="0.75" fill="#3a9ad8" />
<circle cx="340.20" cy="281.91" r="0.6" fill="#3a9ad8" />
<circle cx="380.60" cy="277.26" r="0.6" fill="#3a9ad8" />
<circle cx="380.60" cy="279.46" r="0.6" fill="#3a9ad8" />
<line x1="314.20" y1="276.83" x2="472.00" y2="276.83" stroke="#222" stroke-width="0.8" stroke-dasharray="1 1"/>
<line x1="450.10" y1="188.40" x2="462.90" y2="188.40" stroke="#111" stroke-width="1.0" />
<text x="456.50" y="188.10" font-size="6.5" fill="#222" stroke="#222" stroke-width="0.1" text-anchor="middle">*</text>
<text x="6.80" y="330.20" font-size="10.4" fill="#111" font-weight="bold" style="stroke:#111;stroke-width:0.35">F</text>
<path d="M36.5,368 L36.5,377.5 C34,380 26,382 19,383.5 C16.5,384.5 15.4,387 15.2,390 L14.6,410 L13.8,424 C13.5,427 12,429.5 9.5,431 C7.5,432.5 6.8,435.5 7.2,438 C8,440 11,440.5 13.5,439.5 C15.5,438.5 16.3,435.5 16.3,433 L19.5,421 L21.8,409 L23.5,398 L25,410 L25.4,432 L26.3,460 L27.2,492.5 C24,495 21,498 19.3,501.5 C19,504 21,505.6 24,505.4 C28,505 33,502 37.8,499.5 L37.8,492.5 L39.2,462 L40.8,436 L42.5,462 L47.5,492.5 L47.7,499.5 C52,502 58,505 63,505.4 C66,505.6 67.4,503.5 66.5,501.5 C64,498 60,495.5 56.4,492.5 L55.6,460 L54.8,432 L55,410 L55.8,398 L57.2,409 L59.5,421 L62.8,433 C62.8,435.5 63.8,438.5 66,439.5 C68.5,440.5 71.5,440 72.3,438 C72.6,435.5 71.5,432.5 69.5,431 C67,429.5 65.5,427 65,424 L63.8,410 L62,392 C61.5,388 60.5,385.5 58,384 C53,382 45.5,380 42.3,377.5 L42,368 Z" fill="#cfcdcf" stroke="none" stroke-width="1" />
<path d="M23.6,396 L25,412 L25.3,430" fill="none" stroke="#dedcde" stroke-width="0.6" />
<path d="M56,396 L54.9,412 L54.7,430" fill="none" stroke="#dedcde" stroke-width="0.6" />
<path d="M28.6,356 C28.4,349.5 32.5,346 39,345.9 C44,345.9 47.5,346 49.5,348 C51.5,350.5 51.8,356 50.2,363 C49.5,365.5 48.5,367.5 47.5,368.6 C46,369.2 44,369.3 42,369.5 L36.5,369.5 C33,367.5 30.5,365 29.3,361.5 C28.8,359.8 28.6,358 28.6,356 Z" fill="#cfcdcf" stroke="none" stroke-width="1" />
<rect x="116.70" y="349.80" width="80.40" height="118.90" fill="#ffffff" stroke="#8a8a8a" stroke-width="0.9" />
<circle cx="123.40" cy="357.60" r="4.15" fill="#ededed" stroke="#a6a6a6" stroke-width="0.75"/>
<circle cx="132.90" cy="357.60" r="4.15" fill="#ededed" stroke="#a6a6a6" stroke-width="0.75"/>
<circle cx="142.40" cy="357.60" r="4.15" fill="#ededed" stroke="#a6a6a6" stroke-width="0.75"/>
<circle cx="151.90" cy="357.60" r="4.15" fill="#ededed" stroke="#a6a6a6" stroke-width="0.75"/>
<circle cx="161.40" cy="357.60" r="4.15" fill="#ededed" stroke="#a6a6a6" stroke-width="0.75"/>
<circle cx="170.90" cy="357.60" r="4.15" fill="#ededed" stroke="#a6a6a6" stroke-width="0.75"/>
<circle cx="180.40" cy="357.60" r="4.15" fill="#ededed" stroke="#a6a6a6" stroke-width="0.75"/>
<circle cx="189.90" cy="357.60" r="4.15" fill="#ededed" stroke="#a6a6a6" stroke-width="0.75"/>
<circle cx="123.40" cy="367.00" r="4.15" fill="#ededed" stroke="#a6a6a6" stroke-width="0.75"/>
<circle cx="132.90" cy="367.00" r="4.15" fill="#ededed" stroke="#a6a6a6" stroke-width="0.75"/>
<circle cx="142.40" cy="367.00" r="4.15" fill="#ededed" stroke="#a6a6a6" stroke-width="0.75"/>
<circle cx="151.90" cy="367.00" r="4.15" fill="#ededed" stroke="#a6a6a6" stroke-width="0.75"/>
<circle cx="161.40" cy="367.00" r="4.15" fill="#ededed" stroke="#a6a6a6" stroke-width="0.75"/>
<circle cx="170.90" cy="367.00" r="4.15" fill="#ededed" stroke="#a6a6a6" stroke-width="0.75"/>
<circle cx="180.40" cy="367.00" r="4.15" fill="#ededed" stroke="#a6a6a6" stroke-width="0.75"/>
<circle cx="189.90" cy="367.00" r="4.15" fill="#ededed" stroke="#a6a6a6" stroke-width="0.75"/>
<circle cx="123.40" cy="376.40" r="4.15" fill="#ededed" stroke="#a6a6a6" stroke-width="0.75"/>
<circle cx="132.90" cy="376.40" r="4.15" fill="#ededed" stroke="#a6a6a6" stroke-width="0.75"/>
<circle cx="142.40" cy="376.40" r="4.15" fill="#ededed" stroke="#a6a6a6" stroke-width="0.75"/>
<circle cx="151.90" cy="376.40" r="4.15" fill="#ededed" stroke="#a6a6a6" stroke-width="0.75"/>
<circle cx="161.40" cy="376.40" r="4.15" fill="#ededed" stroke="#a6a6a6" stroke-width="0.75"/>
<circle cx="170.90" cy="376.40" r="4.15" fill="#ededed" stroke="#a6a6a6" stroke-width="0.75"/>
<circle cx="180.40" cy="376.40" r="4.15" fill="#ededed" stroke="#a6a6a6" stroke-width="0.75"/>
<circle cx="189.90" cy="376.40" r="4.15" fill="#ededed" stroke="#a6a6a6" stroke-width="0.75"/>
<circle cx="123.40" cy="385.80" r="4.15" fill="#ededed" stroke="#a6a6a6" stroke-width="0.75"/>
<circle cx="132.90" cy="385.80" r="4.15" fill="#ededed" stroke="#a6a6a6" stroke-width="0.75"/>
<circle cx="142.40" cy="385.80" r="4.15" fill="#ededed" stroke="#a6a6a6" stroke-width="0.75"/>
<circle cx="151.90" cy="385.80" r="4.15" fill="#ededed" stroke="#a6a6a6" stroke-width="0.75"/>
<circle cx="161.40" cy="385.80" r="4.15" fill="#ededed" stroke="#a6a6a6" stroke-width="0.75"/>
<circle cx="170.90" cy="385.80" r="4.15" fill="#ededed" stroke="#a6a6a6" stroke-width="0.75"/>
<circle cx="180.40" cy="385.80" r="4.15" fill="#ededed" stroke="#a6a6a6" stroke-width="0.75"/>
<circle cx="189.90" cy="385.80" r="4.15" fill="#ededed" stroke="#a6a6a6" stroke-width="0.75"/>
<circle cx="123.40" cy="395.20" r="4.15" fill="#ededed" stroke="#a6a6a6" stroke-width="0.75"/>
<circle cx="132.90" cy="395.20" r="4.15" fill="#ededed" stroke="#a6a6a6" stroke-width="0.75"/>
<circle cx="142.40" cy="395.20" r="4.15" fill="#ededed" stroke="#a6a6a6" stroke-width="0.75"/>
<circle cx="151.90" cy="395.20" r="4.15" fill="#ededed" stroke="#a6a6a6" stroke-width="0.75"/>
<circle cx="161.40" cy="395.20" r="4.15" fill="#ededed" stroke="#a6a6a6" stroke-width="0.75"/>
<circle cx="170.90" cy="395.20" r="4.15" fill="#ededed" stroke="#a6a6a6" stroke-width="0.75"/>
<circle cx="180.40" cy="395.20" r="4.15" fill="#ededed" stroke="#a6a6a6" stroke-width="0.75"/>
<circle cx="189.90" cy="395.20" r="4.15" fill="#ededed" stroke="#a6a6a6" stroke-width="0.75"/>
<circle cx="123.40" cy="404.60" r="4.15" fill="#ededed" stroke="#a6a6a6" stroke-width="0.75"/>
<circle cx="132.90" cy="404.60" r="4.15" fill="#ededed" stroke="#a6a6a6" stroke-width="0.75"/>
<circle cx="142.40" cy="404.60" r="4.15" fill="#ededed" stroke="#a6a6a6" stroke-width="0.75"/>
<circle cx="151.90" cy="404.60" r="4.15" fill="#ededed" stroke="#a6a6a6" stroke-width="0.75"/>
<circle cx="161.40" cy="404.60" r="4.15" fill="#ededed" stroke="#a6a6a6" stroke-width="0.75"/>
<circle cx="170.90" cy="404.60" r="4.15" fill="#ededed" stroke="#a6a6a6" stroke-width="0.75"/>
<circle cx="180.40" cy="404.60" r="4.15" fill="#ededed" stroke="#a6a6a6" stroke-width="0.75"/>
<circle cx="189.90" cy="404.60" r="4.15" fill="#ededed" stroke="#a6a6a6" stroke-width="0.75"/>
<circle cx="123.40" cy="414.00" r="4.15" fill="#ededed" stroke="#a6a6a6" stroke-width="0.75"/>
<circle cx="132.90" cy="414.00" r="4.15" fill="#ededed" stroke="#a6a6a6" stroke-width="0.75"/>
<circle cx="142.40" cy="414.00" r="4.15" fill="#ededed" stroke="#a6a6a6" stroke-width="0.75"/>
<circle cx="151.90" cy="414.00" r="4.15" fill="#ededed" stroke="#a6a6a6" stroke-width="0.75"/>
<circle cx="161.40" cy="414.00" r="4.15" fill="#ededed" stroke="#a6a6a6" stroke-width="0.75"/>
<circle cx="170.90" cy="414.00" r="4.15" fill="#ededed" stroke="#a6a6a6" stroke-width="0.75"/>
<circle cx="180.40" cy="414.00" r="4.15" fill="#ededed" stroke="#a6a6a6" stroke-width="0.75"/>
<circle cx="189.90" cy="414.00" r="4.15" fill="#ededed" stroke="#a6a6a6" stroke-width="0.75"/>
<circle cx="123.40" cy="423.40" r="4.15" fill="#ededed" stroke="#a6a6a6" stroke-width="0.75"/>
<circle cx="132.90" cy="423.40" r="4.15" fill="#ededed" stroke="#a6a6a6" stroke-width="0.75"/>
<circle cx="142.40" cy="423.40" r="4.15" fill="#ededed" stroke="#a6a6a6" stroke-width="0.75"/>
<circle cx="151.90" cy="423.40" r="4.15" fill="#ededed" stroke="#a6a6a6" stroke-width="0.75"/>
<circle cx="161.40" cy="423.40" r="4.15" fill="#ededed" stroke="#a6a6a6" stroke-width="0.75"/>
<circle cx="170.90" cy="423.40" r="4.15" fill="#ededed" stroke="#a6a6a6" stroke-width="0.75"/>
<circle cx="180.40" cy="423.40" r="4.15" fill="#ededed" stroke="#a6a6a6" stroke-width="0.75"/>
<circle cx="189.90" cy="423.40" r="4.15" fill="#ededed" stroke="#a6a6a6" stroke-width="0.75"/>
<circle cx="123.40" cy="432.80" r="4.15" fill="#ededed" stroke="#a6a6a6" stroke-width="0.75"/>
<circle cx="132.90" cy="432.80" r="4.15" fill="#ededed" stroke="#a6a6a6" stroke-width="0.75"/>
<circle cx="142.40" cy="432.80" r="4.15" fill="#ededed" stroke="#a6a6a6" stroke-width="0.75"/>
<circle cx="151.90" cy="432.80" r="4.15" fill="#ededed" stroke="#a6a6a6" stroke-width="0.75"/>
<circle cx="161.40" cy="432.80" r="4.15" fill="#ededed" stroke="#a6a6a6" stroke-width="0.75"/>
<circle cx="170.90" cy="432.80" r="4.15" fill="#ededed" stroke="#a6a6a6" stroke-width="0.75"/>
<circle cx="180.40" cy="432.80" r="4.15" fill="#ededed" stroke="#a6a6a6" stroke-width="0.75"/>
<circle cx="189.90" cy="432.80" r="4.15" fill="#ededed" stroke="#a6a6a6" stroke-width="0.75"/>
<circle cx="123.40" cy="442.20" r="4.15" fill="#ededed" stroke="#a6a6a6" stroke-width="0.75"/>
<circle cx="132.90" cy="442.20" r="4.15" fill="#ededed" stroke="#a6a6a6" stroke-width="0.75"/>
<circle cx="142.40" cy="442.20" r="4.15" fill="#ededed" stroke="#a6a6a6" stroke-width="0.75"/>
<circle cx="151.90" cy="442.20" r="4.15" fill="#ededed" stroke="#a6a6a6" stroke-width="0.75"/>
<circle cx="161.40" cy="442.20" r="4.15" fill="#ededed" stroke="#a6a6a6" stroke-width="0.75"/>
<circle cx="170.90" cy="442.20" r="4.15" fill="#ededed" stroke="#a6a6a6" stroke-width="0.75"/>
<circle cx="180.40" cy="442.20" r="4.15" fill="#ededed" stroke="#a6a6a6" stroke-width="0.75"/>
<circle cx="189.90" cy="442.20" r="4.15" fill="#ededed" stroke="#a6a6a6" stroke-width="0.75"/>
<circle cx="123.40" cy="451.60" r="4.15" fill="#ededed" stroke="#a6a6a6" stroke-width="0.75"/>
<circle cx="132.90" cy="451.60" r="4.15" fill="#ededed" stroke="#a6a6a6" stroke-width="0.75"/>
<circle cx="142.40" cy="451.60" r="4.15" fill="#ededed" stroke="#a6a6a6" stroke-width="0.75"/>
<circle cx="151.90" cy="451.60" r="4.15" fill="#ededed" stroke="#a6a6a6" stroke-width="0.75"/>
<circle cx="161.40" cy="451.60" r="4.15" fill="#ededed" stroke="#a6a6a6" stroke-width="0.75"/>
<circle cx="170.90" cy="451.60" r="4.15" fill="#ededed" stroke="#a6a6a6" stroke-width="0.75"/>
<circle cx="180.40" cy="451.60" r="4.15" fill="#ededed" stroke="#a6a6a6" stroke-width="0.75"/>
<circle cx="189.90" cy="451.60" r="4.15" fill="#ededed" stroke="#a6a6a6" stroke-width="0.75"/>
<circle cx="123.40" cy="461.00" r="4.15" fill="#ededed" stroke="#a6a6a6" stroke-width="0.75"/>
<circle cx="132.90" cy="461.00" r="4.15" fill="#ededed" stroke="#a6a6a6" stroke-width="0.75"/>
<circle cx="142.40" cy="461.00" r="4.15" fill="#ededed" stroke="#a6a6a6" stroke-width="0.75"/>
<circle cx="151.90" cy="461.00" r="4.15" fill="#ededed" stroke="#a6a6a6" stroke-width="0.75"/>
<circle cx="161.40" cy="461.00" r="4.15" fill="#ededed" stroke="#a6a6a6" stroke-width="0.75"/>
<circle cx="170.90" cy="461.00" r="4.15" fill="#ededed" stroke="#a6a6a6" stroke-width="0.75"/>
<circle cx="180.40" cy="461.00" r="4.15" fill="#ededed" stroke="#a6a6a6" stroke-width="0.75"/>
<circle cx="189.90" cy="461.00" r="4.15" fill="#ededed" stroke="#a6a6a6" stroke-width="0.75"/>
<circle cx="122.00" cy="414.00" r="3.9" fill="#fbfbfb" stroke="#c6c6c6" stroke-width="0.5"/>
<circle cx="122.00" cy="421.50" r="3.9" fill="#fbfbfb" stroke="#c6c6c6" stroke-width="0.5"/>
<circle cx="128.50" cy="414.00" r="3.9" fill="#fbfbfb" stroke="#c6c6c6" stroke-width="0.5"/>
<circle cx="128.50" cy="421.50" r="3.9" fill="#fbfbfb" stroke="#c6c6c6" stroke-width="0.5"/>
<circle cx="135.00" cy="414.00" r="3.9" fill="#fbfbfb" stroke="#c6c6c6" stroke-width="0.5"/>
<circle cx="135.00" cy="421.50" r="3.9" fill="#fbfbfb" stroke="#c6c6c6" stroke-width="0.5"/>
<circle cx="141.50" cy="414.00" r="3.9" fill="#fbfbfb" stroke="#c6c6c6" stroke-width="0.5"/>
<circle cx="141.50" cy="421.50" r="3.9" fill="#fbfbfb" stroke="#c6c6c6" stroke-width="0.5"/>
<circle cx="148.00" cy="414.00" r="3.9" fill="#fbfbfb" stroke="#c6c6c6" stroke-width="0.5"/>
<circle cx="148.00" cy="421.50" r="3.9" fill="#fbfbfb" stroke="#c6c6c6" stroke-width="0.5"/>
<circle cx="122.00" cy="414.00" r="3.9" fill="#fbfbfb" stroke="#c6c6c6" stroke-width="0.5"/>
<circle cx="151.50" cy="414.00" r="3.9" fill="#fbfbfb" stroke="#c6c6c6" stroke-width="0.5"/>
<circle cx="122.00" cy="419.00" r="3.9" fill="#fbfbfb" stroke="#c6c6c6" stroke-width="0.5"/>
<circle cx="151.50" cy="419.00" r="3.9" fill="#fbfbfb" stroke="#c6c6c6" stroke-width="0.5"/>
<rect x="119.70" y="411.70" width="34.10" height="12.10" fill="#fbfbfb" stroke="none" stroke-width="1" />
<circle cx="122.00" cy="431.70" r="3.9" fill="#fbfbfb" stroke="#c6c6c6" stroke-width="0.5"/>
<circle cx="122.00" cy="445.70" r="3.9" fill="#fbfbfb" stroke="#c6c6c6" stroke-width="0.5"/>
<circle cx="128.50" cy="431.70" r="3.9" fill="#fbfbfb" stroke="#c6c6c6" stroke-width="0.5"/>
<circle cx="128.50" cy="445.70" r="3.9" fill="#fbfbfb" stroke="#c6c6c6" stroke-width="0.5"/>
<circle cx="135.00" cy="431.70" r="3.9" fill="#fbfbfb" stroke="#c6c6c6" stroke-width="0.5"/>
<circle cx="135.00" cy="445.70" r="3.9" fill="#fbfbfb" stroke="#c6c6c6" stroke-width="0.5"/>
<circle cx="141.50" cy="431.70" r="3.9" fill="#fbfbfb" stroke="#c6c6c6" stroke-width="0.5"/>
<circle cx="141.50" cy="445.70" r="3.9" fill="#fbfbfb" stroke="#c6c6c6" stroke-width="0.5"/>
<circle cx="148.00" cy="431.70" r="3.9" fill="#fbfbfb" stroke="#c6c6c6" stroke-width="0.5"/>
<circle cx="148.00" cy="445.70" r="3.9" fill="#fbfbfb" stroke="#c6c6c6" stroke-width="0.5"/>
<circle cx="154.50" cy="431.70" r="3.9" fill="#fbfbfb" stroke="#c6c6c6" stroke-width="0.5"/>
<circle cx="154.50" cy="445.70" r="3.9" fill="#fbfbfb" stroke="#c6c6c6" stroke-width="0.5"/>
<circle cx="161.00" cy="431.70" r="3.9" fill="#fbfbfb" stroke="#c6c6c6" stroke-width="0.5"/>
<circle cx="161.00" cy="445.70" r="3.9" fill="#fbfbfb" stroke="#c6c6c6" stroke-width="0.5"/>
<circle cx="167.50" cy="431.70" r="3.9" fill="#fbfbfb" stroke="#c6c6c6" stroke-width="0.5"/>
<circle cx="167.50" cy="445.70" r="3.9" fill="#fbfbfb" stroke="#c6c6c6" stroke-width="0.5"/>
<circle cx="174.00" cy="431.70" r="3.9" fill="#fbfbfb" stroke="#c6c6c6" stroke-width="0.5"/>
<circle cx="174.00" cy="445.70" r="3.9" fill="#fbfbfb" stroke="#c6c6c6" stroke-width="0.5"/>
<circle cx="180.50" cy="431.70" r="3.9" fill="#fbfbfb" stroke="#c6c6c6" stroke-width="0.5"/>
<circle cx="180.50" cy="445.70" r="3.9" fill="#fbfbfb" stroke="#c6c6c6" stroke-width="0.5"/>
<circle cx="187.00" cy="431.70" r="3.9" fill="#fbfbfb" stroke="#c6c6c6" stroke-width="0.5"/>
<circle cx="187.00" cy="445.70" r="3.9" fill="#fbfbfb" stroke="#c6c6c6" stroke-width="0.5"/>
<circle cx="122.00" cy="431.70" r="3.9" fill="#fbfbfb" stroke="#c6c6c6" stroke-width="0.5"/>
<circle cx="188.00" cy="431.70" r="3.9" fill="#fbfbfb" stroke="#c6c6c6" stroke-width="0.5"/>
<circle cx="122.00" cy="436.70" r="3.9" fill="#fbfbfb" stroke="#c6c6c6" stroke-width="0.5"/>
<circle cx="188.00" cy="436.70" r="3.9" fill="#fbfbfb" stroke="#c6c6c6" stroke-width="0.5"/>
<circle cx="122.00" cy="441.70" r="3.9" fill="#fbfbfb" stroke="#c6c6c6" stroke-width="0.5"/>
<circle cx="188.00" cy="441.70" r="3.9" fill="#fbfbfb" stroke="#c6c6c6" stroke-width="0.5"/>
<rect x="119.70" y="429.40" width="70.60" height="18.60" fill="#fbfbfb" stroke="none" stroke-width="1" />
<circle cx="122.00" cy="454.10" r="3.9" fill="#fbfbfb" stroke="#c6c6c6" stroke-width="0.5"/>
<circle cx="122.00" cy="459.00" r="3.9" fill="#fbfbfb" stroke="#c6c6c6" stroke-width="0.5"/>
<circle cx="128.50" cy="454.10" r="3.9" fill="#fbfbfb" stroke="#c6c6c6" stroke-width="0.5"/>
<circle cx="128.50" cy="459.00" r="3.9" fill="#fbfbfb" stroke="#c6c6c6" stroke-width="0.5"/>
<circle cx="135.00" cy="454.10" r="3.9" fill="#fbfbfb" stroke="#c6c6c6" stroke-width="0.5"/>
<circle cx="135.00" cy="459.00" r="3.9" fill="#fbfbfb" stroke="#c6c6c6" stroke-width="0.5"/>
<circle cx="141.50" cy="454.10" r="3.9" fill="#fbfbfb" stroke="#c6c6c6" stroke-width="0.5"/>
<circle cx="141.50" cy="459.00" r="3.9" fill="#fbfbfb" stroke="#c6c6c6" stroke-width="0.5"/>
<circle cx="148.00" cy="454.10" r="3.9" fill="#fbfbfb" stroke="#c6c6c6" stroke-width="0.5"/>
<circle cx="148.00" cy="459.00" r="3.9" fill="#fbfbfb" stroke="#c6c6c6" stroke-width="0.5"/>
<circle cx="154.50" cy="454.10" r="3.9" fill="#fbfbfb" stroke="#c6c6c6" stroke-width="0.5"/>
<circle cx="154.50" cy="459.00" r="3.9" fill="#fbfbfb" stroke="#c6c6c6" stroke-width="0.5"/>
<circle cx="161.00" cy="454.10" r="3.9" fill="#fbfbfb" stroke="#c6c6c6" stroke-width="0.5"/>
<circle cx="161.00" cy="459.00" r="3.9" fill="#fbfbfb" stroke="#c6c6c6" stroke-width="0.5"/>
<circle cx="167.50" cy="454.10" r="3.9" fill="#fbfbfb" stroke="#c6c6c6" stroke-width="0.5"/>
<circle cx="167.50" cy="459.00" r="3.9" fill="#fbfbfb" stroke="#c6c6c6" stroke-width="0.5"/>
<circle cx="122.00" cy="454.10" r="3.9" fill="#fbfbfb" stroke="#c6c6c6" stroke-width="0.5"/>
<circle cx="169.00" cy="454.10" r="3.9" fill="#fbfbfb" stroke="#c6c6c6" stroke-width="0.5"/>
<rect x="119.70" y="451.80" width="51.60" height="9.50" fill="#fbfbfb" stroke="none" stroke-width="1" />
<text x="125.70" y="419.30" font-size="5.7" fill="#333" stroke="#333" stroke-width="0.1" textLength="14.4" lengthAdjust="spacingAndGlyphs">7 days</text>
<text x="125.70" y="433.60" font-size="6.0" fill="#333" stroke="#333" stroke-width="0.1" textLength="32" lengthAdjust="spacingAndGlyphs">EXPER media</text>
<text x="125.70" y="439.60" font-size="6.0" fill="#333" stroke="#333" stroke-width="0.1" textLength="58.6" lengthAdjust="spacingAndGlyphs">(IL2, IL3, IL6, Il11, Flt3-L,</text>
<text x="125.70" y="446.10" font-size="6.0" fill="#333" stroke="#333" stroke-width="0.1" textLength="62" lengthAdjust="spacingAndGlyphs">TPO, EPO, SCF, GM-CSF)</text>
<text x="125.70" y="458.20" font-size="6.0" fill="#333" stroke="#333" stroke-width="0.1" textLength="41.3" lengthAdjust="spacingAndGlyphs">400 Cells per well</text>
<circle cx="171.00" cy="376.40" r="4.2" fill="#f3c0dc" stroke="#e2a8c8" stroke-width="0.5"/>
<circle cx="171.00" cy="385.80" r="4.2" fill="#f3c0dc" stroke="#e2a8c8" stroke-width="0.5"/>
<circle cx="171.00" cy="395.20" r="4.2" fill="#f3c0dc" stroke="#e2a8c8" stroke-width="0.5"/>
<circle cx="171.00" cy="404.60" r="4.2" fill="#f3c0dc" stroke="#e2a8c8" stroke-width="0.5"/>
<circle cx="171.00" cy="414.00" r="4.2" fill="#f3c0dc" stroke="#e2a8c8" stroke-width="0.5"/>
<rect x="164.50" y="370.60" width="11.50" height="50.80" fill="none" stroke="#f0c24a" stroke-width="0.9" />
<line x1="151.20" y1="381.10" x2="204.00" y2="381.10" stroke="#333" stroke-width="0.8" />
<line x1="151.20" y1="391.10" x2="204.00" y2="391.10" stroke="#333" stroke-width="0.8" />
<line x1="151.20" y1="400.70" x2="204.00" y2="400.70" stroke="#333" stroke-width="0.8" />
<line x1="151.20" y1="409.30" x2="204.00" y2="409.30" stroke="#333" stroke-width="0.8" />
<text x="198.80" y="378.70" font-size="6.6" fill="#222" stroke="#222" stroke-width="0.1">DMSO</text>
<text x="198.80" y="388.50" font-size="6.6" fill="#222" stroke="#222" stroke-width="0.1">5nM</text>
<text x="198.80" y="398.40" font-size="6.6" fill="#222" stroke="#222" stroke-width="0.1">10nM</text>
<text x="198.80" y="407.60" font-size="6.6" fill="#222" stroke="#222" stroke-width="0.1">50nM</text>
<text x="198.80" y="417.00" font-size="6.6" fill="#222" stroke="#222" stroke-width="0.1">500nM</text>
<text x="222.00" y="395.80" font-size="6" fill="#444" stroke="#444" stroke-width="0.1" text-anchor="middle" transform="rotate(90 222.00 395.80)">ruxolitinib</text>
<line x1="60.00" y1="398.20" x2="113.50" y2="398.20" stroke="#d04050" stroke-width="0.9" />
<path d="M113,396.4 L116.7,398.2 L113,400 Z" fill="#c02030" stroke="none" stroke-width="1" />
<text x="53.00" y="396.40" font-size="7" fill="#222" stroke="#222" stroke-width="0.1" textLength="62.5" lengthAdjust="spacingAndGlyphs">CD34<tspan font-size="4.2" dy="-2.8">+</tspan><tspan dy="2.8">CD38</tspan><tspan font-size="4.2" dy="-2.8">-</tspan><tspan dy="2.8">CD45R</tspan><tspan font-size="4.2" dy="-2.8">-</tspan></text>
<path d="M141.30,481.97 L141.30,488.83 A14.35,3.17 0 0 0 170.00,488.83 L170.00,481.97 Z" fill="#f9d9c8" stroke="#a49c9a" stroke-width="0.6" />
<ellipse cx="155.65" cy="481.97" rx="14.35" ry="3.17" fill="#fbf5f3" stroke="#a49c9a" stroke-width="0.6"/>
<ellipse cx="155.65" cy="485.61" rx="13.35" ry="3.01" fill="#f8d4c0" stroke="#e6b8a2" stroke-width="0.4"/>
<circle cx="165.19" cy="486.62" r="0.8136499294391453" fill="#e6a078" opacity="0.8"/>
<circle cx="157.67" cy="485.40" r="1.0789384705214546" fill="#e6a078" opacity="0.8"/>
<circle cx="158.02" cy="487.19" r="1.4296521395546593" fill="#e6a078" opacity="0.8"/>
<circle cx="154.26" cy="483.75" r="1.4566101424658542" fill="#e6a078" opacity="0.8"/>
<circle cx="160.87" cy="487.30" r="1.380412207541402" fill="#e6a078" opacity="0.8"/>
<circle cx="155.98" cy="484.18" r="1.2690549180908886" fill="#e6a078" opacity="0.8"/>
<circle cx="151.54" cy="486.84" r="1.300552377008819" fill="#e6a078" opacity="0.8"/>
<path d="M141.30,498.47 L141.30,505.33 A14.35,3.17 0 0 0 170.00,505.33 L170.00,498.47 Z" fill="#f9d9c8" stroke="#a49c9a" stroke-width="0.6" />
<ellipse cx="155.65" cy="498.47" rx="14.35" ry="3.17" fill="#fbf5f3" stroke="#a49c9a" stroke-width="0.6"/>
<ellipse cx="155.65" cy="502.11" rx="13.35" ry="3.01" fill="#f8d4c0" stroke="#e6b8a2" stroke-width="0.4"/>
<circle cx="145.64" cy="501.35" r="1.034820268228025" fill="#e6a078" opacity="0.8"/>
<circle cx="145.83" cy="501.86" r="1.4905113621030495" fill="#e6a078" opacity="0.8"/>
<circle cx="154.85" cy="503.81" r="1.4382621735040815" fill="#e6a078" opacity="0.8"/>
<circle cx="166.11" cy="503.04" r="1.4394853458359234" fill="#e6a078" opacity="0.8"/>
<circle cx="155.45" cy="502.92" r="1.1354671128239882" fill="#e6a078" opacity="0.8"/>
<circle cx="159.03" cy="500.75" r="0.8321217215747871" fill="#e6a078" opacity="0.8"/>
<circle cx="156.70" cy="503.78" r="1.2887022249968894" fill="#e6a078" opacity="0.8"/>
<line x1="155.80" y1="469.00" x2="155.80" y2="480.00" stroke="#111" stroke-width="1.0" />
<path d="M154.0,479.5 L157.60000000000002,479.5 L155.8,482.5 Z" fill="#111" stroke="none" stroke-width="1" />
<text x="172.50" y="482.30" font-size="6.3" fill="#333" stroke="#333" stroke-width="0.1">1<tspan font-size="3.6" dy="-2.5">st</tspan><tspan dy="2.5"> plating</tspan></text>
<text x="172.50" y="503.30" font-size="6.3" fill="#333" stroke="#333" stroke-width="0.1">2<tspan font-size="3.6" dy="-2.5">nd</tspan><tspan dy="2.5"> plating</tspan></text>
<text x="179.00" y="490.30" font-size="5.2" fill="#cfcfcf" stroke="#cfcfcf" stroke-width="0.1">2weeks</text>
<text x="179.00" y="509.50" font-size="5.2" fill="#cfcfcf" stroke="#cfcfcf" stroke-width="0.1">4weeks</text>
<text x="110.00" y="494.20" font-size="6.3" fill="#333" stroke="#333" stroke-width="0.1">Dilution</text>
<path d="M140,487.5 C133,488 133,499 139.5,499.5" fill="none" stroke="#707070" stroke-width="2.3" />
<path d="M138.5,497 L142.5,499.7 L138.5,502.3 Z" fill="#707070" stroke="none" stroke-width="1" />
<text x="238.50" y="330.20" font-size="10.4" fill="#111" font-weight="bold" style="stroke:#111;stroke-width:0.35">G</text>
<rect x="311.50" y="377.30" width="10.00" height="5.80" fill="#bc9fc4" stroke="none" stroke-width="1" />
<rect x="328.20" y="378.00" width="10.00" height="5.10" fill="#9a6f9a" stroke="none" stroke-width="1" />
<rect x="345.00" y="383.10" width="10.40" height="2.00" fill="#7d4480" stroke="none" stroke-width="1" />
<rect x="362.30" y="383.10" width="10.00" height="31.10" fill="#5f1e69" stroke="none" stroke-width="1" />
<line x1="316.60" y1="377.52" x2="316.60" y2="372.20" stroke="#222" stroke-width="0.8" />
<line x1="314.20" y1="372.20" x2="319.00" y2="372.20" stroke="#222" stroke-width="0.8" />
<line x1="333.60" y1="378.21" x2="333.60" y2="374.20" stroke="#222" stroke-width="0.8" />
<line x1="331.20" y1="374.20" x2="336.00" y2="374.20" stroke="#222" stroke-width="0.8" />
<line x1="288.00" y1="352.20" x2="288.00" y2="444.40" stroke="#222" stroke-width="1.1" />
<line x1="284.70" y1="352.70" x2="288.00" y2="352.70" stroke="#222" stroke-width="0.9" />
<text x="282.90" y="354.90" font-size="6.4" fill="#333" stroke="#333" stroke-width="0.1" text-anchor="end">4</text>
<line x1="284.70" y1="367.90" x2="288.00" y2="367.90" stroke="#222" stroke-width="0.9" />
<text x="282.90" y="370.10" font-size="6.4" fill="#333" stroke="#333" stroke-width="0.1" text-anchor="end">2</text>
<line x1="284.70" y1="383.10" x2="288.00" y2="383.10" stroke="#222" stroke-width="0.9" />
<text x="282.90" y="385.30" font-size="6.4" fill="#333" stroke="#333" stroke-width="0.1" text-anchor="end">1</text>
<line x1="284.70" y1="398.30" x2="288.00" y2="398.30" stroke="#222" stroke-width="0.9" />
<text x="282.90" y="400.50" font-size="6.4" fill="#333" stroke="#333" stroke-width="0.1" text-anchor="end">0.5</text>
<line x1="284.70" y1="413.50" x2="288.00" y2="413.50" stroke="#222" stroke-width="0.9" />
<text x="282.90" y="415.70" font-size="6.4" fill="#333" stroke="#333" stroke-width="0.1" text-anchor="end">0.25</text>
<line x1="284.70" y1="428.70" x2="288.00" y2="428.70" stroke="#222" stroke-width="0.9" />
<text x="282.90" y="430.90" font-size="6.4" fill="#333" stroke="#333" stroke-width="0.1" text-anchor="end">0.125</text>
<line x1="284.70" y1="443.90" x2="288.00" y2="443.90" stroke="#222" stroke-width="0.9" />
<text x="282.90" y="446.10" font-size="6.4" fill="#333" stroke="#333" stroke-width="0.1" text-anchor="end">0.0625</text>
<line x1="287.50" y1="443.90" x2="375.50" y2="443.90" stroke="#222" stroke-width="1.2" />
<line x1="299.50" y1="443.90" x2="299.50" y2="447.10" stroke="#222" stroke-width="0.9" />
<line x1="316.50" y1="443.90" x2="316.50" y2="447.10" stroke="#222" stroke-width="0.9" />
<line x1="333.00" y1="443.90" x2="333.00" y2="447.10" stroke="#222" stroke-width="0.9" />
<line x1="350.20" y1="443.90" x2="350.20" y2="447.10" stroke="#222" stroke-width="0.9" />
<line x1="367.50" y1="443.90" x2="367.50" y2="447.10" stroke="#222" stroke-width="0.9" />
<text x="302.10" y="453.50" font-size="6.8" fill="#333" stroke="#333" stroke-width="0.1" text-anchor="end" transform="rotate(-45 302.10 453.50)">DMSO</text>
<text x="319.10" y="453.50" font-size="6.8" fill="#333" stroke="#333" stroke-width="0.1" text-anchor="end" transform="rotate(-45 319.10 453.50)">5nM</text>
<text x="335.60" y="453.50" font-size="6.8" fill="#333" stroke="#333" stroke-width="0.1" text-anchor="end" transform="rotate(-45 335.60 453.50)">10nM</text>
<text x="352.80" y="453.50" font-size="6.8" fill="#333" stroke="#333" stroke-width="0.1" text-anchor="end" transform="rotate(-45 352.80 453.50)">50nM</text>
<text x="370.10" y="453.50" font-size="6.8" fill="#333" stroke="#333" stroke-width="0.1" text-anchor="end" transform="rotate(-45 370.10 453.50)">500nM</text>
<line x1="285.50" y1="383.10" x2="378.50" y2="383.10" stroke="#666" stroke-width="1.5" />
<circle cx="295.20" cy="383.10" r="1.2" fill="#111" />
<circle cx="297.90" cy="383.10" r="1.2" fill="#111" />
<circle cx="300.60" cy="383.10" r="1.2" fill="#111" />
<circle cx="303.50" cy="383.10" r="1.2" fill="#111" />
<circle cx="316.30" cy="366.50" r="1.2" fill="#111" />
<circle cx="316.30" cy="376.50" r="1.2" fill="#111" />
<circle cx="313.80" cy="385.00" r="1.2" fill="#111" />
<circle cx="318.80" cy="385.00" r="1.2" fill="#111" />
<circle cx="333.50" cy="369.90" r="1.2" fill="#111" />
<circle cx="330.50" cy="384.50" r="1.2" fill="#111" />
<circle cx="336.00" cy="382.50" r="1.2" fill="#111" />
<circle cx="350.40" cy="378.00" r="1.2" fill="#111" />
<circle cx="349.20" cy="383.20" r="1.2" fill="#111" />
<circle cx="350.40" cy="391.60" r="1.2" fill="#111" />
<circle cx="350.40" cy="396.80" r="1.2" fill="#111" />
<circle cx="367.30" cy="399.20" r="1.2" fill="#111" />
<circle cx="367.30" cy="414.70" r="1.2" fill="#111" />
<circle cx="364.60" cy="432.70" r="1.2" fill="#111" />
<circle cx="369.80" cy="430.80" r="1.2" fill="#111" />
<text x="333.30" y="344.90" font-size="9.2" fill="#222" stroke="#222" stroke-width="0.1" text-anchor="middle" textLength="27.8" lengthAdjust="spacingAndGlyphs">Week 2</text>
<text x="245.60" y="397.40" font-size="7.2" fill="#333" stroke="#333" stroke-width="0.25" text-anchor="middle" textLength="77" lengthAdjust="spacingAndGlyphs" transform="rotate(-90 245.60 397.40)">Fold change in colony number</text>
<text x="255.10" y="396.60" font-size="7.2" fill="#333" stroke="#333" stroke-width="0.25" text-anchor="middle" textLength="88" lengthAdjust="spacingAndGlyphs" transform="rotate(-90 255.10 396.60)">compared to DMSO control (Log<tspan font-size="4.5" dy="1.6">2</tspan><tspan dy="-1.6">)</tspan></text>
<line x1="302.10" y1="469.80" x2="366.50" y2="469.80" stroke="#222" stroke-width="1.1" />
<text x="333.90" y="480.30" font-size="7.4" fill="#333" stroke="#333" stroke-width="0.25" text-anchor="middle" textLength="40.3" lengthAdjust="spacingAndGlyphs">Ruxolitinib (nM)</text>
<rect x="446.20" y="409.00" width="9.70" height="20.10" fill="#bc9fc4" stroke="none" stroke-width="1" />
<rect x="463.10" y="380.10" width="9.90" height="49.00" fill="#9a6f9a" stroke="none" stroke-width="1" />
<rect x="480.00" y="389.90" width="9.80" height="39.20" fill="#7d4480" stroke="none" stroke-width="1" />
<rect x="497.20" y="408.00" width="9.70" height="21.10" fill="#5f1e69" stroke="none" stroke-width="1" />
<line x1="468.00" y1="380.10" x2="468.00" y2="374.40" stroke="#222" stroke-width="0.8" />
<line x1="465.60" y1="374.40" x2="470.40" y2="374.40" stroke="#222" stroke-width="0.8" />
<line x1="485.00" y1="389.90" x2="485.00" y2="381.80" stroke="#222" stroke-width="0.8" />
<line x1="482.60" y1="381.80" x2="487.40" y2="381.80" stroke="#222" stroke-width="0.8" />
<line x1="502.00" y1="408.00" x2="502.00" y2="403.40" stroke="#222" stroke-width="0.8" />
<line x1="499.60" y1="403.40" x2="504.40" y2="403.40" stroke="#222" stroke-width="0.8" />
<line x1="422.80" y1="354.60" x2="422.80" y2="444.40" stroke="#222" stroke-width="1.1" />
<line x1="419.50" y1="355.10" x2="422.80" y2="355.10" stroke="#222" stroke-width="0.9" />
<text x="417.70" y="357.30" font-size="6.4" fill="#333" stroke="#333" stroke-width="0.1" text-anchor="end">32</text>
<line x1="419.50" y1="369.90" x2="422.80" y2="369.90" stroke="#222" stroke-width="0.9" />
<text x="417.70" y="372.10" font-size="6.4" fill="#333" stroke="#333" stroke-width="0.1" text-anchor="end">16</text>
<line x1="419.50" y1="384.70" x2="422.80" y2="384.70" stroke="#222" stroke-width="0.9" />
<text x="417.70" y="386.90" font-size="6.4" fill="#333" stroke="#333" stroke-width="0.1" text-anchor="end">8</text>
<line x1="419.50" y1="399.50" x2="422.80" y2="399.50" stroke="#222" stroke-width="0.9" />
<text x="417.70" y="401.70" font-size="6.4" fill="#333" stroke="#333" stroke-width="0.1" text-anchor="end">4</text>
<line x1="419.50" y1="414.30" x2="422.80" y2="414.30" stroke="#222" stroke-width="0.9" />
<text x="417.70" y="416.50" font-size="6.4" fill="#333" stroke="#333" stroke-width="0.1" text-anchor="end">2</text>
<line x1="419.50" y1="429.10" x2="422.80" y2="429.10" stroke="#222" stroke-width="0.9" />
<text x="417.70" y="431.30" font-size="6.4" fill="#333" stroke="#333" stroke-width="0.1" text-anchor="end">1</text>
<line x1="419.50" y1="443.90" x2="422.80" y2="443.90" stroke="#222" stroke-width="0.9" />
<text x="417.70" y="446.10" font-size="6.4" fill="#333" stroke="#333" stroke-width="0.1" text-anchor="end">0.5</text>
<line x1="422.30" y1="443.90" x2="513.00" y2="443.90" stroke="#222" stroke-width="1.2" />
<line x1="434.20" y1="443.90" x2="434.20" y2="447.10" stroke="#222" stroke-width="0.9" />
<line x1="450.80" y1="443.90" x2="450.80" y2="447.10" stroke="#222" stroke-width="0.9" />
<line x1="467.60" y1="443.90" x2="467.60" y2="447.10" stroke="#222" stroke-width="0.9" />
<line x1="485.00" y1="443.90" x2="485.00" y2="447.10" stroke="#222" stroke-width="0.9" />
<line x1="501.50" y1="443.90" x2="501.50" y2="447.10" stroke="#222" stroke-width="0.9" />
<text x="436.80" y="453.50" font-size="6.8" fill="#333" stroke="#333" stroke-width="0.1" text-anchor="end" transform="rotate(-45 436.80 453.50)">DMSO</text>
<text x="453.40" y="453.50" font-size="6.8" fill="#333" stroke="#333" stroke-width="0.1" text-anchor="end" transform="rotate(-45 453.40 453.50)">5nM</text>
<text x="470.20" y="453.50" font-size="6.8" fill="#333" stroke="#333" stroke-width="0.1" text-anchor="end" transform="rotate(-45 470.20 453.50)">10nM</text>
<text x="487.60" y="453.50" font-size="6.8" fill="#333" stroke="#333" stroke-width="0.1" text-anchor="end" transform="rotate(-45 487.60 453.50)">50nM</text>
<text x="504.10" y="453.50" font-size="6.8" fill="#333" stroke="#333" stroke-width="0.1" text-anchor="end" transform="rotate(-45 504.10 453.50)">500nM</text>
<line x1="420.30" y1="429.10" x2="510.00" y2="429.10" stroke="#666" stroke-width="1.5" />
<circle cx="429.60" cy="429.10" r="1.2" fill="#111" />
<circle cx="432.50" cy="429.10" r="1.2" fill="#111" />
<circle cx="435.40" cy="429.10" r="1.2" fill="#111" />
<circle cx="438.50" cy="429.10" r="1.2" fill="#111" />
<circle cx="446.70" cy="405.80" r="1.2" fill="#111" />
<circle cx="451.00" cy="407.70" r="1.2" fill="#111" />
<circle cx="455.50" cy="407.70" r="1.2" fill="#111" />
<circle cx="451.00" cy="414.20" r="1.2" fill="#111" />
<circle cx="468.00" cy="377.20" r="1.2" fill="#111" />
<circle cx="465.00" cy="391.00" r="1.2" fill="#111" />
<circle cx="471.00" cy="390.50" r="1.2" fill="#111" />
<circle cx="485.00" cy="372.70" r="1.2" fill="#111" />
<circle cx="485.00" cy="387.70" r="1.2" fill="#111" />
<circle cx="485.00" cy="407.70" r="1.2" fill="#111" />
<circle cx="485.00" cy="414.20" r="1.2" fill="#111" />
<circle cx="502.00" cy="399.60" r="1.2" fill="#111" />
<circle cx="499.50" cy="414.20" r="1.2" fill="#111" />
<circle cx="504.50" cy="414.20" r="1.2" fill="#111" />
<text x="468.10" y="347.30" font-size="9.2" fill="#222" stroke="#222" stroke-width="0.1" text-anchor="middle" textLength="27.8" lengthAdjust="spacingAndGlyphs">Week 4</text>
<text x="391.80" y="398.00" font-size="7.2" fill="#333" stroke="#333" stroke-width="0.25" text-anchor="middle" textLength="77" lengthAdjust="spacingAndGlyphs" transform="rotate(-90 391.80 398.00)">Fold change in colony number</text>
<text x="402.80" y="398.40" font-size="7.2" fill="#333" stroke="#333" stroke-width="0.25" text-anchor="middle" textLength="88" lengthAdjust="spacingAndGlyphs" transform="rotate(-90 402.80 398.40)">compared to DMSO control (Log<tspan font-size="4.5" dy="1.6">2</tspan><tspan dy="-1.6">)</tspan></text>
<line x1="437.00" y1="470.40" x2="501.50" y2="470.40" stroke="#222" stroke-width="1.1" />
<text x="469.20" y="481.20" font-size="7.4" fill="#333" stroke="#333" stroke-width="0.25" text-anchor="middle" textLength="40.3" lengthAdjust="spacingAndGlyphs">Ruxolitinib (nM)</text>
<text x="7.30" y="532.20" font-size="10.4" fill="#111" font-weight="bold" style="stroke:#111;stroke-width:0.35">H</text>
<rect x="6.50" y="538.20" width="104.20" height="21.10" fill="#ffffff" stroke="#3a3a3a" stroke-width="0.9" />
<line x1="19.50" y1="538.20" x2="19.50" y2="559.30" stroke="#3a3a3a" stroke-width="0.9" />
<line x1="79.50" y1="538.20" x2="79.50" y2="559.30" stroke="#3a3a3a" stroke-width="0.9" />
<text x="49.50" y="550.95" font-size="6.2" fill="#333" stroke="#333" stroke-width="0.1" text-anchor="middle">Comparison</text>
<text x="95.10" y="547.75" font-size="6.2" fill="#333" stroke="#333" stroke-width="0.1" text-anchor="middle"><tspan font-style="italic">P</tspan>,</text>
<text x="95.10" y="554.75" font-size="6.2" fill="#333" stroke="#333" stroke-width="0.1" text-anchor="middle">Value</text>
<rect x="19.50" y="559.30" width="91.20" height="14.62" fill="#ffffff" stroke="#3a3a3a" stroke-width="0.9" />
<line x1="79.50" y1="559.30" x2="79.50" y2="573.92" stroke="#3a3a3a" stroke-width="0.9" />
<text x="27.00" y="569.31" font-size="6.4" fill="#333" stroke="#333" stroke-width="0.1">DMSO - 5nM</text>
<text x="95.10" y="569.31" font-size="6.4" fill="#333" stroke="#333" stroke-width="0.1" text-anchor="middle">.0159</text>
<rect x="19.50" y="573.92" width="91.20" height="14.62" fill="#ffffff" stroke="#3a3a3a" stroke-width="0.9" />
<line x1="79.50" y1="573.92" x2="79.50" y2="588.54" stroke="#3a3a3a" stroke-width="0.9" />
<text x="27.00" y="583.93" font-size="6.4" fill="#333" stroke="#333" stroke-width="0.1">DMSO - 10nM</text>
<text x="95.10" y="583.93" font-size="6.4" fill="#333" stroke="#333" stroke-width="0.1" text-anchor="middle">.0326</text>
<rect x="19.50" y="588.54" width="91.20" height="14.62" fill="#ffffff" stroke="#3a3a3a" stroke-width="0.9" />
<line x1="79.50" y1="588.54" x2="79.50" y2="603.16" stroke="#3a3a3a" stroke-width="0.9" />
<text x="27.00" y="598.55" font-size="6.4" fill="#333" stroke="#333" stroke-width="0.1">DMSO - 50nM</text>
<text x="95.10" y="598.55" font-size="6.4" fill="#333" stroke="#333" stroke-width="0.1" text-anchor="middle">&lt; .0001</text>
<rect x="19.50" y="603.16" width="91.20" height="14.62" fill="#ffffff" stroke="#3a3a3a" stroke-width="0.9" />
<line x1="79.50" y1="603.16" x2="79.50" y2="617.78" stroke="#3a3a3a" stroke-width="0.9" />
<text x="27.00" y="613.17" font-size="6.4" fill="#333" stroke="#333" stroke-width="0.1">DMSO - 500nM</text>
<text x="95.10" y="613.17" font-size="6.4" fill="#333" stroke="#333" stroke-width="0.1" text-anchor="middle">&lt; .0001</text>
<rect x="19.50" y="617.78" width="91.20" height="14.62" fill="#ffffff" stroke="#3a3a3a" stroke-width="0.9" />
<line x1="79.50" y1="617.78" x2="79.50" y2="632.40" stroke="#3a3a3a" stroke-width="0.9" />
<text x="27.00" y="627.79" font-size="6.4" fill="#333" stroke="#333" stroke-width="0.1">DMSO - 5nM</text>
<text x="95.10" y="627.79" font-size="6.4" fill="#333" stroke="#333" stroke-width="0.1" text-anchor="middle">.312</text>
<rect x="19.50" y="632.40" width="91.20" height="14.62" fill="#ffffff" stroke="#3a3a3a" stroke-width="0.9" />
<line x1="79.50" y1="632.40" x2="79.50" y2="647.02" stroke="#3a3a3a" stroke-width="0.9" />
<text x="27.00" y="642.41" font-size="6.4" fill="#333" stroke="#333" stroke-width="0.1">DMSO - 10nM</text>
<text x="95.10" y="642.41" font-size="6.4" fill="#333" stroke="#333" stroke-width="0.1" text-anchor="middle">&lt; .0001</text>
<rect x="19.50" y="647.02" width="91.20" height="14.62" fill="#ffffff" stroke="#3a3a3a" stroke-width="0.9" />
<line x1="79.50" y1="647.02" x2="79.50" y2="661.64" stroke="#3a3a3a" stroke-width="0.9" />
<text x="27.00" y="657.03" font-size="6.4" fill="#333" stroke="#333" stroke-width="0.1">DMSO - 50nM</text>
<text x="95.10" y="657.03" font-size="6.4" fill="#333" stroke="#333" stroke-width="0.1" text-anchor="middle">.0001</text>
<rect x="19.50" y="661.64" width="91.20" height="14.62" fill="#ffffff" stroke="#3a3a3a" stroke-width="0.9" />
<line x1="79.50" y1="661.64" x2="79.50" y2="676.26" stroke="#3a3a3a" stroke-width="0.9" />
<text x="27.00" y="671.65" font-size="6.4" fill="#333" stroke="#333" stroke-width="0.1">DMSO - 500nM</text>
<text x="95.10" y="671.65" font-size="6.4" fill="#333" stroke="#333" stroke-width="0.1" text-anchor="middle">.4044</text>
<rect x="6.50" y="559.30" width="13.00" height="58.48" fill="#c9c7cd" stroke="#3a3a3a" stroke-width="0.9" />
<text x="15.20" y="588.54" font-size="6.2" fill="#222" text-anchor="middle" font-weight="bold" transform="rotate(-90 15.20 588.54)">WEEK 2</text>
<rect x="6.50" y="617.78" width="13.00" height="58.48" fill="#c9c7cd" stroke="#3a3a3a" stroke-width="0.9" />
<text x="15.20" y="647.02" font-size="6.2" fill="#222" text-anchor="middle" font-weight="bold" transform="rotate(-90 15.20 647.02)">WEEK 4</text>
<line x1="6.50" y1="617.78" x2="110.70" y2="617.78" stroke="#222" stroke-width="1.5" />
<rect x="6.50" y="538.20" width="104.20" height="138.06" fill="none" stroke="#222" stroke-width="1.1" />
<text x="120.80" y="532.20" font-size="10.4" fill="#111" font-weight="bold" style="stroke:#111;stroke-width:0.35">I</text>
<text x="404.40" y="532.20" font-size="10.4" fill="#111" font-weight="bold" style="stroke:#111;stroke-width:0.35">J</text>
<rect x="404.50" y="538.80" width="105.00" height="20.70" fill="#ffffff" stroke="#3a3a3a" stroke-width="0.9" />
<line x1="417.50" y1="538.80" x2="417.50" y2="559.50" stroke="#3a3a3a" stroke-width="0.9" />
<line x1="477.50" y1="538.80" x2="477.50" y2="559.50" stroke="#3a3a3a" stroke-width="0.9" />
<text x="447.50" y="551.35" font-size="6.2" fill="#333" stroke="#333" stroke-width="0.1" text-anchor="middle">Comparison</text>
<text x="493.50" y="548.15" font-size="6.2" fill="#333" stroke="#333" stroke-width="0.1" text-anchor="middle"><tspan font-style="italic">P</tspan>,</text>
<text x="493.50" y="555.15" font-size="6.2" fill="#333" stroke="#333" stroke-width="0.1" text-anchor="middle">Value</text>
<rect x="417.50" y="559.50" width="92.00" height="14.60" fill="#ffffff" stroke="#3a3a3a" stroke-width="0.9" />
<line x1="477.50" y1="559.50" x2="477.50" y2="574.10" stroke="#3a3a3a" stroke-width="0.9" />
<text x="425.00" y="569.50" font-size="6.4" fill="#333" stroke="#333" stroke-width="0.1">DMSO - 5nM</text>
<text x="493.50" y="569.50" font-size="6.4" fill="#333" stroke="#333" stroke-width="0.1" text-anchor="middle">.0474</text>
<rect x="417.50" y="574.10" width="92.00" height="14.60" fill="#ffffff" stroke="#3a3a3a" stroke-width="0.9" />
<line x1="477.50" y1="574.10" x2="477.50" y2="588.70" stroke="#3a3a3a" stroke-width="0.9" />
<text x="425.00" y="584.10" font-size="6.4" fill="#333" stroke="#333" stroke-width="0.1">DMSO - 10nM</text>
<text x="493.50" y="584.10" font-size="6.4" fill="#333" stroke="#333" stroke-width="0.1" text-anchor="middle">.9739</text>
<rect x="417.50" y="588.70" width="92.00" height="14.60" fill="#ffffff" stroke="#3a3a3a" stroke-width="0.9" />
<line x1="477.50" y1="588.70" x2="477.50" y2="603.30" stroke="#3a3a3a" stroke-width="0.9" />
<text x="425.00" y="598.70" font-size="6.4" fill="#333" stroke="#333" stroke-width="0.1">DMSO - 50nM</text>
<text x="493.50" y="598.70" font-size="6.4" fill="#333" stroke="#333" stroke-width="0.1" text-anchor="middle">&lt; .0001</text>
<rect x="417.50" y="603.30" width="92.00" height="14.60" fill="#ffffff" stroke="#3a3a3a" stroke-width="0.9" />
<line x1="477.50" y1="603.30" x2="477.50" y2="617.90" stroke="#3a3a3a" stroke-width="0.9" />
<text x="425.00" y="613.30" font-size="6.4" fill="#333" stroke="#333" stroke-width="0.1">DMSO - 500nM</text>
<text x="493.50" y="613.30" font-size="6.4" fill="#333" stroke="#333" stroke-width="0.1" text-anchor="middle">&lt; .0001</text>
<rect x="417.50" y="617.90" width="92.00" height="14.60" fill="#ffffff" stroke="#3a3a3a" stroke-width="0.9" />
<line x1="477.50" y1="617.90" x2="477.50" y2="632.50" stroke="#3a3a3a" stroke-width="0.9" />
<text x="425.00" y="627.90" font-size="6.4" fill="#333" stroke="#333" stroke-width="0.1">DMSO - 5nM</text>
<text x="493.50" y="627.90" font-size="6.4" fill="#333" stroke="#333" stroke-width="0.1" text-anchor="middle">&lt; .0001</text>
<rect x="417.50" y="632.50" width="92.00" height="14.60" fill="#ffffff" stroke="#3a3a3a" stroke-width="0.9" />
<line x1="477.50" y1="632.50" x2="477.50" y2="647.10" stroke="#3a3a3a" stroke-width="0.9" />
<text x="425.00" y="642.50" font-size="6.4" fill="#333" stroke="#333" stroke-width="0.1">DMSO - 10nM</text>
<text x="493.50" y="642.50" font-size="6.4" fill="#333" stroke="#333" stroke-width="0.1" text-anchor="middle">&lt; .0001</text>
<rect x="417.50" y="647.10" width="92.00" height="14.60" fill="#ffffff" stroke="#3a3a3a" stroke-width="0.9" />
<line x1="477.50" y1="647.10" x2="477.50" y2="661.70" stroke="#3a3a3a" stroke-width="0.9" />
<text x="425.00" y="657.10" font-size="6.4" fill="#333" stroke="#333" stroke-width="0.1">DMSO - 50nM</text>
<text x="493.50" y="657.10" font-size="6.4" fill="#333" stroke="#333" stroke-width="0.1" text-anchor="middle">&lt; .0001</text>
<rect x="417.50" y="661.70" width="92.00" height="14.60" fill="#ffffff" stroke="#3a3a3a" stroke-width="0.9" />
<line x1="477.50" y1="661.70" x2="477.50" y2="676.30" stroke="#3a3a3a" stroke-width="0.9" />
<text x="425.00" y="671.70" font-size="6.4" fill="#333" stroke="#333" stroke-width="0.1">DMSO - 500nM</text>
<text x="493.50" y="671.70" font-size="6.4" fill="#333" stroke="#333" stroke-width="0.1" text-anchor="middle">.001</text>
<rect x="404.50" y="559.50" width="13.00" height="58.40" fill="#c9c7cd" stroke="#3a3a3a" stroke-width="0.9" />
<text x="413.20" y="588.70" font-size="6.2" fill="#222" text-anchor="middle" font-weight="bold" transform="rotate(-90 413.20 588.70)">WEEK 2</text>
<rect x="404.50" y="617.90" width="13.00" height="58.40" fill="#c9c7cd" stroke="#3a3a3a" stroke-width="0.9" />
<text x="413.20" y="647.10" font-size="6.2" fill="#222" text-anchor="middle" font-weight="bold" transform="rotate(-90 413.20 647.10)">WEEK 4</text>
<line x1="404.50" y1="617.90" x2="509.50" y2="617.90" stroke="#222" stroke-width="1.5" />
<rect x="404.50" y="538.80" width="105.00" height="137.50" fill="none" stroke="#222" stroke-width="1.1" />
<rect x="193.20" y="567.67" width="9.10" height="2.23" fill="#bc9fc4" stroke="none" stroke-width="1" />
<rect x="209.50" y="569.21" width="10.00" height="0.80" fill="#9a6f9a" stroke="none" stroke-width="1" />
<rect x="225.70" y="569.90" width="10.40" height="6.20" fill="#7d4480" stroke="none" stroke-width="1" />
<rect x="242.70" y="569.90" width="9.00" height="42.20" fill="#5f1e69" stroke="none" stroke-width="1" />
<line x1="170.80" y1="553.20" x2="170.80" y2="635.20" stroke="#222" stroke-width="1.1" />
<line x1="167.50" y1="553.70" x2="170.80" y2="553.70" stroke="#222" stroke-width="0.9" />
<text x="165.70" y="555.90" font-size="6.4" fill="#333" stroke="#333" stroke-width="0.1" text-anchor="end">2</text>
<line x1="167.50" y1="569.90" x2="170.80" y2="569.90" stroke="#222" stroke-width="0.9" />
<text x="165.70" y="572.10" font-size="6.4" fill="#333" stroke="#333" stroke-width="0.1" text-anchor="end">1</text>
<line x1="167.50" y1="586.10" x2="170.80" y2="586.10" stroke="#222" stroke-width="0.9" />
<text x="165.70" y="588.30" font-size="6.4" fill="#333" stroke="#333" stroke-width="0.1" text-anchor="end">0.5</text>
<line x1="167.50" y1="602.30" x2="170.80" y2="602.30" stroke="#222" stroke-width="0.9" />
<text x="165.70" y="604.50" font-size="6.4" fill="#333" stroke="#333" stroke-width="0.1" text-anchor="end">0.25</text>
<line x1="167.50" y1="618.50" x2="170.80" y2="618.50" stroke="#222" stroke-width="0.9" />
<text x="165.70" y="620.70" font-size="6.4" fill="#333" stroke="#333" stroke-width="0.1" text-anchor="end">0.125</text>
<line x1="167.50" y1="634.70" x2="170.80" y2="634.70" stroke="#222" stroke-width="0.9" />
<text x="165.70" y="636.90" font-size="6.4" fill="#333" stroke="#333" stroke-width="0.1" text-anchor="end">0.0625</text>
<line x1="170.30" y1="634.70" x2="253.50" y2="634.70" stroke="#222" stroke-width="1.2" />
<line x1="181.30" y1="634.70" x2="181.30" y2="637.90" stroke="#222" stroke-width="0.9" />
<line x1="198.00" y1="634.70" x2="198.00" y2="637.90" stroke="#222" stroke-width="0.9" />
<line x1="214.50" y1="634.70" x2="214.50" y2="637.90" stroke="#222" stroke-width="0.9" />
<line x1="230.40" y1="634.70" x2="230.40" y2="637.90" stroke="#222" stroke-width="0.9" />
<line x1="247.10" y1="634.70" x2="247.10" y2="637.90" stroke="#222" stroke-width="0.9" />
<text x="183.90" y="644.30" font-size="6.8" fill="#333" stroke="#333" stroke-width="0.1" text-anchor="end" transform="rotate(-45 183.90 644.30)">DMSO</text>
<text x="200.60" y="644.30" font-size="6.8" fill="#333" stroke="#333" stroke-width="0.1" text-anchor="end" transform="rotate(-45 200.60 644.30)">5nM</text>
<text x="217.10" y="644.30" font-size="6.8" fill="#333" stroke="#333" stroke-width="0.1" text-anchor="end" transform="rotate(-45 217.10 644.30)">10nM</text>
<text x="233.00" y="644.30" font-size="6.8" fill="#333" stroke="#333" stroke-width="0.1" text-anchor="end" transform="rotate(-45 233.00 644.30)">50nM</text>
<text x="249.70" y="644.30" font-size="6.8" fill="#333" stroke="#333" stroke-width="0.1" text-anchor="end" transform="rotate(-45 249.70 644.30)">500nM</text>
<line x1="168.30" y1="569.90" x2="258.60" y2="569.90" stroke="#666" stroke-width="1.5" />
<circle cx="177.80" cy="569.90" r="1.2" fill="#111" />
<circle cx="180.40" cy="569.90" r="1.2" fill="#111" />
<circle cx="183.10" cy="569.90" r="1.2" fill="#111" />
<circle cx="185.80" cy="569.90" r="1.2" fill="#111" />
<circle cx="194.20" cy="563.20" r="1.2" fill="#111" />
<circle cx="198.20" cy="565.40" r="1.2" fill="#111" />
<circle cx="202.30" cy="565.00" r="1.2" fill="#111" />
<circle cx="198.20" cy="575.30" r="1.2" fill="#111" />
<circle cx="214.50" cy="564.90" r="1.2" fill="#111" />
<circle cx="214.50" cy="574.80" r="1.2" fill="#111" />
<circle cx="212.00" cy="570.00" r="1.2" fill="#111" />
<circle cx="217.00" cy="569.00" r="1.2" fill="#111" />
<circle cx="230.60" cy="568.40" r="1.2" fill="#111" />
<circle cx="228.30" cy="577.90" r="1.2" fill="#111" />
<circle cx="228.30" cy="582.20" r="1.2" fill="#111" />
<circle cx="233.50" cy="580.50" r="1.2" fill="#111" />
<circle cx="247.00" cy="605.60" r="1.2" fill="#111" />
<circle cx="249.50" cy="613.70" r="1.2" fill="#111" />
<circle cx="247.00" cy="624.20" r="1.2" fill="#111" />
<text x="214.50" y="545.50" font-size="9.2" fill="#222" stroke="#222" stroke-width="0.1" text-anchor="middle" textLength="27.8" lengthAdjust="spacingAndGlyphs">Week 2</text>
<text x="126.90" y="592.30" font-size="7.2" fill="#333" stroke="#333" stroke-width="0.25" text-anchor="middle" textLength="77" lengthAdjust="spacingAndGlyphs" transform="rotate(-90 126.90 592.30)">Fold change in colony number</text>
<text x="137.10" y="592.70" font-size="7.2" fill="#333" stroke="#333" stroke-width="0.25" text-anchor="middle" textLength="88" lengthAdjust="spacingAndGlyphs" transform="rotate(-90 137.10 592.70)">compared to DMSO control (Log<tspan font-size="4.5" dy="1.6">2</tspan><tspan dy="-1.6">)</tspan></text>
<line x1="193.80" y1="661.50" x2="250.40" y2="661.50" stroke="#222" stroke-width="1.1" />
<text x="221.50" y="672.00" font-size="7.4" fill="#333" stroke="#333" stroke-width="0.25" text-anchor="middle" textLength="40.3" lengthAdjust="spacingAndGlyphs">Ruxolitinib (nM)</text>
<rect x="330.10" y="593.93" width="9.60" height="19.07" fill="#bc9fc4" stroke="none" stroke-width="1" />
<rect x="346.70" y="577.12" width="9.70" height="35.88" fill="#9a6f9a" stroke="none" stroke-width="1" />
<rect x="363.10" y="569.80" width="10.00" height="43.20" fill="#7d4480" stroke="none" stroke-width="1" />
<rect x="379.50" y="613.00" width="9.50" height="0.80" fill="#5f1e69" stroke="none" stroke-width="1" />
<line x1="334.90" y1="593.93" x2="334.90" y2="589.56" stroke="#222" stroke-width="0.8" />
<line x1="332.50" y1="589.56" x2="337.30" y2="589.56" stroke="#222" stroke-width="0.8" />
<line x1="351.50" y1="577.12" x2="351.50" y2="572.45" stroke="#222" stroke-width="0.8" />
<line x1="349.10" y1="572.45" x2="353.90" y2="572.45" stroke="#222" stroke-width="0.8" />
<line x1="368.10" y1="569.80" x2="368.10" y2="561.08" stroke="#222" stroke-width="0.8" />
<line x1="365.70" y1="561.08" x2="370.50" y2="561.08" stroke="#222" stroke-width="0.8" />
<line x1="384.30" y1="613.00" x2="384.30" y2="608.32" stroke="#222" stroke-width="0.8" />
<line x1="381.90" y1="608.32" x2="386.70" y2="608.32" stroke="#222" stroke-width="0.8" />
<line x1="307.20" y1="547.70" x2="307.20" y2="635.10" stroke="#222" stroke-width="1.1" />
<line x1="303.90" y1="548.20" x2="307.20" y2="548.20" stroke="#222" stroke-width="0.9" />
<text x="302.10" y="550.40" font-size="6.4" fill="#333" stroke="#333" stroke-width="0.1" text-anchor="end">64</text>
<line x1="303.90" y1="559.00" x2="307.20" y2="559.00" stroke="#222" stroke-width="0.9" />
<text x="302.10" y="561.20" font-size="6.4" fill="#333" stroke="#333" stroke-width="0.1" text-anchor="end">32</text>
<line x1="303.90" y1="569.80" x2="307.20" y2="569.80" stroke="#222" stroke-width="0.9" />
<text x="302.10" y="572.00" font-size="6.4" fill="#333" stroke="#333" stroke-width="0.1" text-anchor="end">16</text>
<line x1="303.90" y1="580.60" x2="307.20" y2="580.60" stroke="#222" stroke-width="0.9" />
<text x="302.10" y="582.80" font-size="6.4" fill="#333" stroke="#333" stroke-width="0.1" text-anchor="end">8</text>
<line x1="303.90" y1="591.40" x2="307.20" y2="591.40" stroke="#222" stroke-width="0.9" />
<text x="302.10" y="593.60" font-size="6.4" fill="#333" stroke="#333" stroke-width="0.1" text-anchor="end">4</text>
<line x1="303.90" y1="602.20" x2="307.20" y2="602.20" stroke="#222" stroke-width="0.9" />
<text x="302.10" y="604.40" font-size="6.4" fill="#333" stroke="#333" stroke-width="0.1" text-anchor="end">2</text>
<line x1="303.90" y1="613.00" x2="307.20" y2="613.00" stroke="#222" stroke-width="0.9" />
<text x="302.10" y="615.20" font-size="6.4" fill="#333" stroke="#333" stroke-width="0.1" text-anchor="end">1</text>
<line x1="303.90" y1="623.80" x2="307.20" y2="623.80" stroke="#222" stroke-width="0.9" />
<text x="302.10" y="626.00" font-size="6.4" fill="#333" stroke="#333" stroke-width="0.1" text-anchor="end">0.5</text>
<line x1="303.90" y1="634.60" x2="307.20" y2="634.60" stroke="#222" stroke-width="0.9" />
<text x="302.10" y="636.80" font-size="6.4" fill="#333" stroke="#333" stroke-width="0.1" text-anchor="end">0.25</text>
<line x1="306.70" y1="634.60" x2="394.20" y2="634.60" stroke="#222" stroke-width="1.2" />
<line x1="318.10" y1="634.60" x2="318.10" y2="637.80" stroke="#222" stroke-width="0.9" />
<line x1="334.90" y1="634.60" x2="334.90" y2="637.80" stroke="#222" stroke-width="0.9" />
<line x1="351.50" y1="634.60" x2="351.50" y2="637.80" stroke="#222" stroke-width="0.9" />
<line x1="368.20" y1="634.60" x2="368.20" y2="637.80" stroke="#222" stroke-width="0.9" />
<line x1="384.40" y1="634.60" x2="384.40" y2="637.80" stroke="#222" stroke-width="0.9" />
<text x="320.70" y="644.20" font-size="6.8" fill="#333" stroke="#333" stroke-width="0.1" text-anchor="end" transform="rotate(-45 320.70 644.20)">DMSO</text>
<text x="337.50" y="644.20" font-size="6.8" fill="#333" stroke="#333" stroke-width="0.1" text-anchor="end" transform="rotate(-45 337.50 644.20)">5nM</text>
<text x="354.10" y="644.20" font-size="6.8" fill="#333" stroke="#333" stroke-width="0.1" text-anchor="end" transform="rotate(-45 354.10 644.20)">10nM</text>
<text x="370.80" y="644.20" font-size="6.8" fill="#333" stroke="#333" stroke-width="0.1" text-anchor="end" transform="rotate(-45 370.80 644.20)">50nM</text>
<text x="387.00" y="644.20" font-size="6.8" fill="#333" stroke="#333" stroke-width="0.1" text-anchor="end" transform="rotate(-45 387.00 644.20)">500nM</text>
<line x1="304.70" y1="613.00" x2="394.20" y2="613.00" stroke="#666" stroke-width="1.5" />
<circle cx="314.20" cy="613.00" r="1.2" fill="#111" />
<circle cx="316.90" cy="613.00" r="1.2" fill="#111" />
<circle cx="319.60" cy="613.00" r="1.2" fill="#111" />
<circle cx="322.40" cy="613.00" r="1.2" fill="#111" />
<circle cx="332.40" cy="589.30" r="1.2" fill="#111" />
<circle cx="337.50" cy="587.10" r="1.2" fill="#111" />
<circle cx="332.40" cy="601.40" r="1.2" fill="#111" />
<circle cx="337.50" cy="600.60" r="1.2" fill="#111" />
<circle cx="351.50" cy="567.20" r="1.2" fill="#111" />
<circle cx="351.50" cy="575.10" r="1.2" fill="#111" />
<circle cx="351.50" cy="580.30" r="1.2" fill="#111" />
<circle cx="351.50" cy="598.30" r="1.2" fill="#111" />
<circle cx="368.10" cy="553.20" r="1.2" fill="#111" />
<circle cx="368.10" cy="574.60" r="1.2" fill="#111" />
<circle cx="368.10" cy="581.00" r="1.2" fill="#111" />
<circle cx="368.10" cy="618.40" r="1.2" fill="#111" />
<circle cx="384.40" cy="602.30" r="1.2" fill="#111" />
<circle cx="382.00" cy="620.00" r="1.2" fill="#111" />
<circle cx="387.00" cy="620.00" r="1.2" fill="#111" />
<circle cx="384.50" cy="627.40" r="1.2" fill="#111" />
<text x="351.50" y="540.20" font-size="10" fill="#222" stroke="#222" stroke-width="0.1" text-anchor="middle" textLength="30.7" lengthAdjust="spacingAndGlyphs">Week 4</text>
<text x="271.20" y="592.30" font-size="7.2" fill="#333" stroke="#333" stroke-width="0.25" text-anchor="middle" textLength="77" lengthAdjust="spacingAndGlyphs" transform="rotate(-90 271.20 592.30)">Fold change in colony number</text>
<text x="281.50" y="592.70" font-size="7.2" fill="#333" stroke="#333" stroke-width="0.25" text-anchor="middle" textLength="88" lengthAdjust="spacingAndGlyphs" transform="rotate(-90 281.50 592.70)">compared to DMSO control (Log<tspan font-size="4.5" dy="1.6">2</tspan><tspan dy="-1.6">)</tspan></text>
<line x1="330.80" y1="661.20" x2="386.20" y2="661.20" stroke="#222" stroke-width="1.1" />
<text x="357.70" y="672.20" font-size="7.4" fill="#333" stroke="#333" stroke-width="0.25" text-anchor="middle" textLength="40.3" lengthAdjust="spacingAndGlyphs">Ruxolitinib (nM)</text>
<rect x="0.50" y="0.50" width="519.00" height="682.00" fill="none" stroke="#4a4a4a" stroke-width="1.2" /></svg>
</body></html>
